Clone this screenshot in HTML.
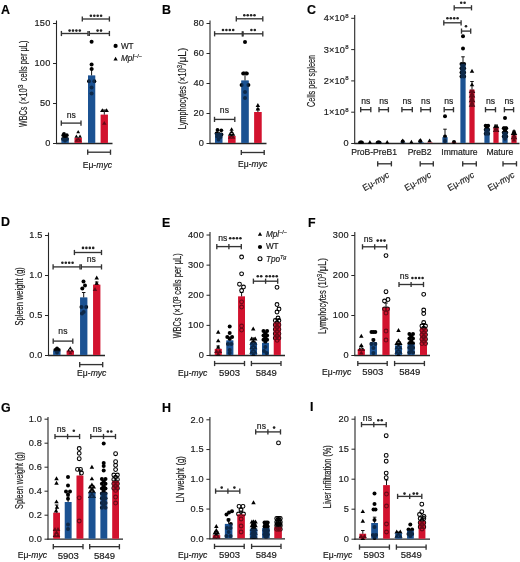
<!DOCTYPE html>
<html><head><meta charset="utf-8"><style>
html,body{margin:0;padding:0;background:#fff;}
svg{display:block;will-change:transform;}
text{font-family:"Liberation Sans", sans-serif;stroke:#1a1a1a;stroke-width:0.18px;}
</style></head><body>
<svg width="520" height="562" viewBox="0 0 520 562">
<rect width="520" height="562" fill="#fff"/>
<text x="1" y="14" font-size="12.4" font-weight="bold" fill="#000">A</text>
<line x1="56.5" y1="20.5" x2="56.5" y2="144.0" stroke="#262626" stroke-width="1.1"/>
<line x1="56.0" y1="143.5" x2="112.5" y2="143.5" stroke="#262626" stroke-width="1.3"/>
<line x1="53.0" y1="143.5" x2="56.5" y2="143.5" stroke="#262626" stroke-width="1"/>
<text x="50.5" y="146.4" font-size="9.2" text-anchor="end" fill="#1a1a1a" font-weight="normal" font-style="normal" letter-spacing="0.2">0</text>
<line x1="53.0" y1="103.5" x2="56.5" y2="103.5" stroke="#262626" stroke-width="1"/>
<text x="50.5" y="106.4" font-size="9.2" text-anchor="end" fill="#1a1a1a" font-weight="normal" font-style="normal" letter-spacing="0.2">50</text>
<line x1="53.0" y1="63.5" x2="56.5" y2="63.5" stroke="#262626" stroke-width="1"/>
<text x="50.5" y="66.4" font-size="9.2" text-anchor="end" fill="#1a1a1a" font-weight="normal" font-style="normal" letter-spacing="0.2">100</text>
<line x1="53.0" y1="23.5" x2="56.5" y2="23.5" stroke="#262626" stroke-width="1"/>
<text x="50.5" y="26.4" font-size="9.2" text-anchor="end" fill="#1a1a1a" font-weight="normal" font-style="normal" letter-spacing="0.2">150</text>
<text transform="translate(26.6,116.9) rotate(-90)" font-size="10" text-anchor="middle" fill="#1a1a1a" stroke="#1a1a1a" stroke-width="0.3" textLength="20.3" lengthAdjust="spacingAndGlyphs">WBCs</text>
<text transform="translate(26.6,96.05) rotate(-90)" font-size="10" text-anchor="middle" fill="#1a1a1a" stroke="#1a1a1a" stroke-width="0.3" textLength="15.8" lengthAdjust="spacingAndGlyphs">(×10</text>
<text transform="translate(23.0,86.45) rotate(-90)" font-size="6.5" text-anchor="middle" fill="#1a1a1a" stroke="#1a1a1a" stroke-width="0.3" textLength="3.8" lengthAdjust="spacingAndGlyphs">3</text>
<text transform="translate(26.6,60.9) rotate(-90)" font-size="10" text-anchor="middle" fill="#1a1a1a" stroke="#1a1a1a" stroke-width="0.3" textLength="40.7" lengthAdjust="spacingAndGlyphs">cells per μL)</text>
<rect x="61.5" y="137.9" width="7.2" height="5.0" fill="#1b5292"/>
<rect x="74.6" y="137.9" width="7.2" height="5.0" fill="#d2122e"/>
<rect x="88.0" y="75.5" width="7.2" height="67.4" fill="#1b5292"/>
<rect x="100.7" y="114.7" width="7.2" height="28.2" fill="#d2122e"/>
<line x1="91.6" y1="69" x2="91.6" y2="75.5" stroke="#111" stroke-width="1"/>
<line x1="89.85" y1="69" x2="93.35" y2="69" stroke="#111" stroke-width="1"/>
<line x1="104.3" y1="110" x2="104.3" y2="114.7" stroke="#111" stroke-width="1"/>
<line x1="102.55" y1="110" x2="106.05" y2="110" stroke="#111" stroke-width="1"/>
<circle cx="63.3" cy="135.2" r="1.9" fill="#000"/>
<circle cx="66.8" cy="135.2" r="1.9" fill="#000"/>
<circle cx="65" cy="137" r="1.9" fill="#000"/>
<circle cx="63" cy="139" r="1.9" fill="#000"/>
<circle cx="67" cy="139" r="1.9" fill="#000"/>
<circle cx="65" cy="140.5" r="1.9" fill="#000"/>
<circle cx="64" cy="134" r="1.9" fill="#000"/>
<path d="M76.30 133.25L80.10 133.25L78.20 129.95Z" fill="#000"/>
<path d="M74.50 137.85L78.30 137.85L76.40 134.55Z" fill="#000"/>
<path d="M78.10 137.85L81.90 137.85L80.00 134.55Z" fill="#000"/>
<path d="M76.30 140.25L80.10 140.25L78.20 136.95Z" fill="#000"/>
<path d="M74.60 141.65L78.40 141.65L76.50 138.35Z" fill="#000"/>
<path d="M77.90 141.65L81.70 141.65L79.80 138.35Z" fill="#000"/>
<circle cx="91.6" cy="41.8" r="2.0" fill="#000"/>
<circle cx="91.6" cy="64.6" r="2.0" fill="#000"/>
<circle cx="91.6" cy="69" r="2.0" fill="#000"/>
<circle cx="89" cy="81.3" r="2.0" fill="#000"/>
<circle cx="94.3" cy="81.3" r="2.0" fill="#000"/>
<circle cx="91.6" cy="87.5" r="2.0" fill="#000"/>
<circle cx="91.6" cy="93.4" r="2.0" fill="#000"/>
<path d="M100.05 112.06L104.55 112.06L102.30 108.14Z" fill="#000"/>
<path d="M104.35 112.06L108.85 112.06L106.60 108.14Z" fill="#000"/>
<path d="M102.05 124.86L106.55 124.86L104.30 120.94Z" fill="#000"/>
<line x1="82.3" y1="19" x2="109.4" y2="19" stroke="#333" stroke-width="1.35"/>
<line x1="82.3" y1="16.4" x2="82.3" y2="21.6" stroke="#333" stroke-width="1.35"/>
<line x1="109.4" y1="16.4" x2="109.4" y2="21.6" stroke="#333" stroke-width="1.35"/>
<circle cx="90.90" cy="15.7" r="1.3" fill="#222"/>
<circle cx="94.30" cy="15.7" r="1.3" fill="#222"/>
<circle cx="97.70" cy="15.7" r="1.3" fill="#222"/>
<circle cx="101.10" cy="15.7" r="1.3" fill="#222"/>
<line x1="61.4" y1="33.5" x2="88" y2="33.5" stroke="#333" stroke-width="1.35"/>
<line x1="61.4" y1="30.9" x2="61.4" y2="36.1" stroke="#333" stroke-width="1.35"/>
<line x1="88" y1="30.9" x2="88" y2="36.1" stroke="#333" stroke-width="1.35"/>
<line x1="89.3" y1="33.5" x2="109.4" y2="33.5" stroke="#333" stroke-width="1.35"/>
<line x1="89.3" y1="30.9" x2="89.3" y2="36.1" stroke="#333" stroke-width="1.35"/>
<line x1="109.4" y1="30.9" x2="109.4" y2="36.1" stroke="#333" stroke-width="1.35"/>
<circle cx="69.60" cy="30.6" r="1.3" fill="#222"/>
<circle cx="73.00" cy="30.6" r="1.3" fill="#222"/>
<circle cx="76.40" cy="30.6" r="1.3" fill="#222"/>
<circle cx="79.80" cy="30.6" r="1.3" fill="#222"/>
<circle cx="97.60" cy="30.6" r="1.3" fill="#222"/>
<circle cx="101.00" cy="30.6" r="1.3" fill="#222"/>
<line x1="61.3" y1="123.1" x2="81" y2="123.1" stroke="#333" stroke-width="1.35"/>
<line x1="61.3" y1="120.5" x2="61.3" y2="125.69999999999999" stroke="#333" stroke-width="1.35"/>
<line x1="81" y1="120.5" x2="81" y2="125.69999999999999" stroke="#333" stroke-width="1.35"/>
<text x="71.3" y="117.5" font-size="8.6" text-anchor="middle" fill="#1a1a1a" font-weight="normal" font-style="normal" >ns</text>
<line x1="87.7" y1="152.2" x2="110.5" y2="152.2" stroke="#333" stroke-width="1.35"/>
<line x1="87.7" y1="149.6" x2="87.7" y2="154.79999999999998" stroke="#333" stroke-width="1.35"/>
<line x1="110.5" y1="149.6" x2="110.5" y2="154.79999999999998" stroke="#333" stroke-width="1.35"/>
<text x="82.7" y="167.7" font-size="8.6" text-anchor="start" fill="#1a1a1a">Eμ-<tspan font-style="italic">myc</tspan></text>
<circle cx="115.6" cy="45.9" r="2.1" fill="#000"/>
<text x="120.9" y="49" font-size="8.2" text-anchor="start" fill="#1a1a1a" font-weight="normal" font-style="normal" >WT</text>
<path d="M113.45 60.47L117.75 60.47L115.60 56.73Z" fill="#000"/>
<text x="120.9" y="61.3" font-size="8.2" fill="#1a1a1a" font-style="italic">Mpl<tspan font-size="5.5" dy="-3.3" font-style="normal">−/−</tspan></text>
<text x="162" y="14" font-size="12.4" font-weight="bold" fill="#000">B</text>
<line x1="210" y1="20.6" x2="210" y2="144.0" stroke="#262626" stroke-width="1.1"/>
<line x1="209.5" y1="143.5" x2="266.5" y2="143.5" stroke="#262626" stroke-width="1.3"/>
<line x1="206.5" y1="143.5" x2="210" y2="143.5" stroke="#262626" stroke-width="1"/>
<text x="204.0" y="146.4" font-size="9.2" text-anchor="end" fill="#1a1a1a" font-weight="normal" font-style="normal" letter-spacing="0.2">0</text>
<line x1="206.5" y1="113.5" x2="210" y2="113.5" stroke="#262626" stroke-width="1"/>
<text x="204.0" y="116.4" font-size="9.2" text-anchor="end" fill="#1a1a1a" font-weight="normal" font-style="normal" letter-spacing="0.2">20</text>
<line x1="206.5" y1="83.5" x2="210" y2="83.5" stroke="#262626" stroke-width="1"/>
<text x="204.0" y="86.4" font-size="9.2" text-anchor="end" fill="#1a1a1a" font-weight="normal" font-style="normal" letter-spacing="0.2">40</text>
<line x1="206.5" y1="53.5" x2="210" y2="53.5" stroke="#262626" stroke-width="1"/>
<text x="204.0" y="56.4" font-size="9.2" text-anchor="end" fill="#1a1a1a" font-weight="normal" font-style="normal" letter-spacing="0.2">60</text>
<line x1="206.5" y1="23.5" x2="210" y2="23.5" stroke="#262626" stroke-width="1"/>
<text x="204.0" y="26.4" font-size="9.2" text-anchor="end" fill="#1a1a1a" font-weight="normal" font-style="normal" letter-spacing="0.2">80</text>
<text transform="translate(185.6,107.55) rotate(-90)" font-size="10" text-anchor="middle" fill="#1a1a1a" stroke="#1a1a1a" stroke-width="0.3" textLength="43.2" lengthAdjust="spacingAndGlyphs">Lymphocytes</text>
<text transform="translate(185.6,76.05) rotate(-90)" font-size="10" text-anchor="middle" fill="#1a1a1a" stroke="#1a1a1a" stroke-width="0.3" textLength="15.8" lengthAdjust="spacingAndGlyphs">(×10</text>
<text transform="translate(182.0,66.7) rotate(-90)" font-size="6.5" text-anchor="middle" fill="#1a1a1a" stroke="#1a1a1a" stroke-width="0.3" textLength="3.3" lengthAdjust="spacingAndGlyphs">3</text>
<text transform="translate(185.6,56.45) rotate(-90)" font-size="10" text-anchor="middle" fill="#1a1a1a" stroke="#1a1a1a" stroke-width="0.3" textLength="17.6" lengthAdjust="spacingAndGlyphs">/μL)</text>
<rect x="215" y="133.0" width="7.4" height="9.9" fill="#1b5292"/>
<rect x="228.1" y="136.0" width="7.4" height="6.9" fill="#d2122e"/>
<rect x="241.3" y="80.5" width="7.4" height="62.4" fill="#1b5292"/>
<rect x="254.2" y="112.0" width="7.4" height="30.9" fill="#d2122e"/>
<line x1="245" y1="72.1" x2="245" y2="80.5" stroke="#111" stroke-width="1"/>
<line x1="243.25" y1="72.1" x2="246.75" y2="72.1" stroke="#111" stroke-width="1"/>
<line x1="257.9" y1="109" x2="257.9" y2="112" stroke="#111" stroke-width="1"/>
<line x1="256.15" y1="109" x2="259.65" y2="109" stroke="#111" stroke-width="1"/>
<circle cx="217.5" cy="130" r="1.9" fill="#000"/>
<circle cx="221.3" cy="130.3" r="1.9" fill="#000"/>
<circle cx="216.5" cy="133.5" r="1.9" fill="#000"/>
<circle cx="219" cy="134" r="1.9" fill="#000"/>
<circle cx="221.5" cy="134.5" r="1.9" fill="#000"/>
<circle cx="217" cy="136.5" r="1.9" fill="#000"/>
<circle cx="220.5" cy="137" r="1.9" fill="#000"/>
<circle cx="218.5" cy="139.5" r="1.9" fill="#000"/>
<path d="M229.50 130.83L233.70 130.83L231.60 127.17Z" fill="#000"/>
<path d="M229.50 133.33L233.70 133.33L231.60 129.67Z" fill="#000"/>
<path d="M227.90 135.83L232.10 135.83L230.00 132.17Z" fill="#000"/>
<path d="M231.10 135.83L235.30 135.83L233.20 132.17Z" fill="#000"/>
<path d="M229.50 137.33L233.70 137.33L231.60 133.67Z" fill="#000"/>
<path d="M227.90 138.83L232.10 138.83L230.00 135.17Z" fill="#000"/>
<path d="M231.10 138.83L235.30 138.83L233.20 135.17Z" fill="#000"/>
<circle cx="245" cy="41.9" r="2.0" fill="#000"/>
<circle cx="243.2" cy="73.5" r="2.0" fill="#000"/>
<circle cx="246.8" cy="73.5" r="2.0" fill="#000"/>
<circle cx="241.6" cy="85" r="2.0" fill="#000"/>
<circle cx="248.4" cy="85" r="2.0" fill="#000"/>
<circle cx="245" cy="92" r="2.0" fill="#000"/>
<circle cx="245" cy="98" r="2.0" fill="#000"/>
<path d="M255.65 106.96L260.15 106.96L257.90 103.04Z" fill="#000"/>
<path d="M255.65 110.46L260.15 110.46L257.90 106.54Z" fill="#000"/>
<line x1="236.3" y1="18.8" x2="262.8" y2="18.8" stroke="#333" stroke-width="1.35"/>
<line x1="236.3" y1="16.2" x2="236.3" y2="21.400000000000002" stroke="#333" stroke-width="1.35"/>
<line x1="262.8" y1="16.2" x2="262.8" y2="21.400000000000002" stroke="#333" stroke-width="1.35"/>
<circle cx="244.30" cy="15.3" r="1.3" fill="#222"/>
<circle cx="247.70" cy="15.3" r="1.3" fill="#222"/>
<circle cx="251.10" cy="15.3" r="1.3" fill="#222"/>
<circle cx="254.50" cy="15.3" r="1.3" fill="#222"/>
<line x1="214.6" y1="33.8" x2="242.3" y2="33.8" stroke="#333" stroke-width="1.35"/>
<line x1="214.6" y1="31.199999999999996" x2="214.6" y2="36.4" stroke="#333" stroke-width="1.35"/>
<line x1="242.3" y1="31.199999999999996" x2="242.3" y2="36.4" stroke="#333" stroke-width="1.35"/>
<line x1="243.1" y1="33.8" x2="262.8" y2="33.8" stroke="#333" stroke-width="1.35"/>
<line x1="243.1" y1="31.199999999999996" x2="243.1" y2="36.4" stroke="#333" stroke-width="1.35"/>
<line x1="262.8" y1="31.199999999999996" x2="262.8" y2="36.4" stroke="#333" stroke-width="1.35"/>
<circle cx="223.00" cy="30" r="1.3" fill="#222"/>
<circle cx="226.40" cy="30" r="1.3" fill="#222"/>
<circle cx="229.80" cy="30" r="1.3" fill="#222"/>
<circle cx="233.20" cy="30" r="1.3" fill="#222"/>
<circle cx="251.40" cy="30" r="1.3" fill="#222"/>
<circle cx="254.80" cy="30" r="1.3" fill="#222"/>
<line x1="214.5" y1="119.4" x2="234.8" y2="119.4" stroke="#333" stroke-width="1.35"/>
<line x1="214.5" y1="116.80000000000001" x2="214.5" y2="122.0" stroke="#333" stroke-width="1.35"/>
<line x1="234.8" y1="116.80000000000001" x2="234.8" y2="122.0" stroke="#333" stroke-width="1.35"/>
<text x="224.4" y="112.5" font-size="8.6" text-anchor="middle" fill="#1a1a1a" font-weight="normal" font-style="normal" >ns</text>
<line x1="241.3" y1="152.5" x2="264.2" y2="152.5" stroke="#333" stroke-width="1.35"/>
<line x1="241.3" y1="149.9" x2="241.3" y2="155.1" stroke="#333" stroke-width="1.35"/>
<line x1="264.2" y1="149.9" x2="264.2" y2="155.1" stroke="#333" stroke-width="1.35"/>
<text x="238" y="167.3" font-size="8.6" text-anchor="start" fill="#1a1a1a">Eμ-<tspan font-style="italic">myc</tspan></text>
<text x="307" y="14" font-size="12.4" font-weight="bold" fill="#000">C</text>
<line x1="354.7" y1="15" x2="354.7" y2="144.0" stroke="#262626" stroke-width="1.1"/>
<line x1="354.2" y1="143.5" x2="519.5" y2="143.5" stroke="#262626" stroke-width="1.3"/>
<line x1="351.2" y1="143.5" x2="354.7" y2="143.5" stroke="#262626" stroke-width="1"/>
<text x="348.7" y="146.4" font-size="9.2" text-anchor="end" fill="#1a1a1a" font-weight="normal" font-style="normal" letter-spacing="0.2">0</text>
<line x1="351.2" y1="112.2" x2="354.7" y2="112.2" stroke="#262626" stroke-width="1"/>
<text x="348.7" y="115.10000000000001" font-size="9.2" text-anchor="end" fill="#1a1a1a" font-weight="normal" font-style="normal" letter-spacing="0.2">1×10<tspan font-size="6" dy="-3.5">8</tspan></text>
<line x1="351.2" y1="80.9" x2="354.7" y2="80.9" stroke="#262626" stroke-width="1"/>
<text x="348.7" y="83.80000000000001" font-size="9.2" text-anchor="end" fill="#1a1a1a" font-weight="normal" font-style="normal" letter-spacing="0.2">2×10<tspan font-size="6" dy="-3.5">8</tspan></text>
<line x1="351.2" y1="49.6" x2="354.7" y2="49.6" stroke="#262626" stroke-width="1"/>
<text x="348.7" y="52.5" font-size="9.2" text-anchor="end" fill="#1a1a1a" font-weight="normal" font-style="normal" letter-spacing="0.2">3×10<tspan font-size="6" dy="-3.5">8</tspan></text>
<line x1="351.2" y1="18.3" x2="354.7" y2="18.3" stroke="#262626" stroke-width="1"/>
<text x="348.7" y="21.2" font-size="9.2" text-anchor="end" fill="#1a1a1a" font-weight="normal" font-style="normal" letter-spacing="0.2">4×10<tspan font-size="6" dy="-3.5">8</tspan></text>
<text transform="translate(314.6,81) rotate(-90)" x="0" y="0" font-size="10" text-anchor="middle" fill="#1a1a1a" stroke="#1a1a1a" stroke-width="0.3" textLength="52" lengthAdjust="spacingAndGlyphs">Cells per spleen</text>
<rect x="358.5" y="142.87" width="5" height="0.03" fill="#1b5292"/>
<rect x="367.5" y="143.03" width="5" height="-0.13" fill="#d2122e"/>
<rect x="376.5" y="142.56" width="5" height="0.34" fill="#1b5292"/>
<rect x="385.5" y="142.87" width="5" height="0.03" fill="#d2122e"/>
<rect x="400.5" y="142.56" width="5" height="0.34" fill="#1b5292"/>
<rect x="409.5" y="143.19" width="5" height="-0.29" fill="#d2122e"/>
<rect x="418.5" y="142.25" width="5" height="0.65" fill="#1b5292"/>
<rect x="427.5" y="142.56" width="5" height="0.34" fill="#d2122e"/>
<rect x="442.5" y="137.24" width="5" height="5.66" fill="#1b5292"/>
<rect x="451.5" y="142.56" width="5" height="0.34" fill="#d2122e"/>
<rect x="460.5" y="63.69" width="5" height="79.21" fill="#1b5292"/>
<rect x="469.5" y="89.66" width="5" height="53.24" fill="#d2122e"/>
<rect x="484.5" y="128.48" width="5" height="14.42" fill="#1b5292"/>
<rect x="493.5" y="127.85" width="5" height="15.05" fill="#d2122e"/>
<rect x="502.5" y="131.92" width="5" height="10.98" fill="#1b5292"/>
<rect x="511.5" y="135.36" width="5" height="7.54" fill="#d2122e"/>
<circle cx="361" cy="142.2" r="1.9" fill="#000"/>
<circle cx="359.8" cy="142.4" r="1.7" fill="#000"/>
<circle cx="362.2" cy="142.4" r="1.7" fill="#000"/>
<circle cx="378.6" cy="142.2" r="1.9" fill="#000"/>
<circle cx="377.40000000000003" cy="142.4" r="1.7" fill="#000"/>
<circle cx="379.8" cy="142.4" r="1.7" fill="#000"/>
<path d="M367.80 143.63L372.00 143.63L369.90 139.97Z" fill="#000"/>
<path d="M385.10 143.63L389.30 143.63L387.20 139.97Z" fill="#000"/>
<circle cx="402.7" cy="141.6" r="2.0" fill="#000"/>
<path d="M400.60 142.23L404.80 142.23L402.70 138.57Z" fill="#000"/>
<path d="M409.30 143.43L413.50 143.43L411.40 139.77Z" fill="#000"/>
<circle cx="420.3" cy="141.2" r="2.0" fill="#000"/>
<path d="M418.20 141.63L422.40 141.63L420.30 137.97Z" fill="#000"/>
<path d="M427.40 142.21L431.80 142.21L429.60 138.39Z" fill="#000"/>
<line x1="445" y1="129.2" x2="445" y2="137" stroke="#111" stroke-width="1"/>
<line x1="443.25" y1="129.2" x2="446.75" y2="129.2" stroke="#111" stroke-width="1"/>
<circle cx="445" cy="116.2" r="2.0" fill="#000"/>
<circle cx="445" cy="136.5" r="2.0" fill="#000"/>
<circle cx="445" cy="141" r="2.0" fill="#000"/>
<circle cx="454" cy="142" r="2.0" fill="#000"/>
<line x1="463" y1="56.8" x2="463" y2="63.6" stroke="#111" stroke-width="1"/>
<line x1="461.25" y1="56.8" x2="464.75" y2="56.8" stroke="#111" stroke-width="1"/>
<circle cx="463" cy="36.3" r="2.0" fill="#000"/>
<circle cx="463" cy="48.4" r="2.0" fill="#000"/>
<circle cx="461.5" cy="64" r="2.0" fill="#000"/>
<circle cx="464.1" cy="64" r="2.0" fill="#000"/>
<circle cx="462.8" cy="66.1" r="2.0" fill="#000"/>
<circle cx="461.5" cy="68.2" r="2.0" fill="#000"/>
<circle cx="464.1" cy="68.2" r="2.0" fill="#000"/>
<circle cx="462.8" cy="70.3" r="2.0" fill="#000"/>
<circle cx="461.5" cy="72.4" r="2.0" fill="#000"/>
<circle cx="464.1" cy="72.4" r="2.0" fill="#000"/>
<circle cx="462.8" cy="74.5" r="2.0" fill="#000"/>
<circle cx="461.5" cy="76.6" r="2.0" fill="#000"/>
<circle cx="464.1" cy="76.6" r="2.0" fill="#000"/>
<line x1="472" y1="81.5" x2="472" y2="89.6" stroke="#111" stroke-width="1"/>
<line x1="470.25" y1="81.5" x2="473.75" y2="81.5" stroke="#111" stroke-width="1"/>
<path d="M469.75 72.66L474.25 72.66L472.00 68.74Z" fill="#000"/>
<path d="M469.75 86.36L474.25 86.36L472.00 82.44Z" fill="#000"/>
<path d="M468.75 92.96L473.25 92.96L471.00 89.04Z" fill="#000"/>
<path d="M470.75 92.96L475.25 92.96L473.00 89.04Z" fill="#000"/>
<path d="M469.75 95.26L474.25 95.26L472.00 91.34Z" fill="#000"/>
<path d="M468.75 97.56L473.25 97.56L471.00 93.64Z" fill="#000"/>
<path d="M470.75 97.56L475.25 97.56L473.00 93.64Z" fill="#000"/>
<path d="M469.75 99.86L474.25 99.86L472.00 95.94Z" fill="#000"/>
<path d="M468.75 102.16L473.25 102.16L471.00 98.24Z" fill="#000"/>
<path d="M470.75 102.16L475.25 102.16L473.00 98.24Z" fill="#000"/>
<path d="M469.75 104.46L474.25 104.46L472.00 100.54Z" fill="#000"/>
<path d="M468.75 106.76L473.25 106.76L471.00 102.84Z" fill="#000"/>
<path d="M470.75 106.76L475.25 106.76L473.00 102.84Z" fill="#000"/>
<line x1="487" y1="124.5" x2="487" y2="128.3" stroke="#111" stroke-width="1"/>
<line x1="485.25" y1="124.5" x2="488.75" y2="124.5" stroke="#111" stroke-width="1"/>
<circle cx="485.7" cy="125.8" r="2.0" fill="#000"/>
<circle cx="488.1" cy="125.8" r="2.0" fill="#000"/>
<circle cx="486.9" cy="127.8" r="2.0" fill="#000"/>
<circle cx="485.7" cy="129.8" r="2.0" fill="#000"/>
<circle cx="488.1" cy="129.8" r="2.0" fill="#000"/>
<circle cx="486.9" cy="131.8" r="2.0" fill="#000"/>
<circle cx="485.7" cy="133.8" r="2.0" fill="#000"/>
<circle cx="488.1" cy="133.8" r="2.0" fill="#000"/>
<line x1="496" y1="125" x2="496" y2="127.5" stroke="#111" stroke-width="1"/>
<line x1="494.25" y1="125" x2="497.75" y2="125" stroke="#111" stroke-width="1"/>
<path d="M492.85 128.16L497.35 128.16L495.10 124.24Z" fill="#000"/>
<path d="M494.85 128.16L499.35 128.16L497.10 124.24Z" fill="#000"/>
<path d="M493.85 130.06L498.35 130.06L496.10 126.14Z" fill="#000"/>
<path d="M492.85 131.96L497.35 131.96L495.10 128.04Z" fill="#000"/>
<path d="M494.85 131.96L499.35 131.96L497.10 128.04Z" fill="#000"/>
<line x1="505" y1="127" x2="505" y2="131.9" stroke="#111" stroke-width="1"/>
<line x1="503.25" y1="127" x2="506.75" y2="127" stroke="#111" stroke-width="1"/>
<circle cx="505" cy="118.1" r="2.0" fill="#000"/>
<circle cx="503.8" cy="128.2" r="2.0" fill="#000"/>
<circle cx="506.2" cy="128.2" r="2.0" fill="#000"/>
<circle cx="505" cy="130.3" r="2.0" fill="#000"/>
<circle cx="503.8" cy="132.4" r="2.0" fill="#000"/>
<circle cx="506.2" cy="132.4" r="2.0" fill="#000"/>
<circle cx="505" cy="134.5" r="2.0" fill="#000"/>
<circle cx="503.8" cy="136.6" r="2.0" fill="#000"/>
<circle cx="506.2" cy="136.6" r="2.0" fill="#000"/>
<circle cx="505" cy="138.7" r="2.0" fill="#000"/>
<line x1="514" y1="131" x2="514" y2="135.5" stroke="#111" stroke-width="1"/>
<line x1="512.25" y1="131" x2="515.75" y2="131" stroke="#111" stroke-width="1"/>
<path d="M511.75 132.96L516.25 132.96L514.00 129.04Z" fill="#000"/>
<path d="M510.75 134.96L515.25 134.96L513.00 131.04Z" fill="#000"/>
<path d="M512.75 134.96L517.25 134.96L515.00 131.04Z" fill="#000"/>
<path d="M511.75 137.16L516.25 137.16L514.00 133.24Z" fill="#000"/>
<path d="M510.75 139.36L515.25 139.36L513.00 135.44Z" fill="#000"/>
<path d="M512.75 139.36L517.25 139.36L515.00 135.44Z" fill="#000"/>
<path d="M511.75 141.56L516.25 141.56L514.00 137.64Z" fill="#000"/>
<line x1="360.7" y1="109.7" x2="370.8" y2="109.7" stroke="#333" stroke-width="1.35"/>
<line x1="360.7" y1="107.10000000000001" x2="360.7" y2="112.3" stroke="#333" stroke-width="1.35"/>
<line x1="370.8" y1="107.10000000000001" x2="370.8" y2="112.3" stroke="#333" stroke-width="1.35"/>
<text x="365.75" y="103.8" font-size="8.6" text-anchor="middle" fill="#1a1a1a" font-weight="normal" font-style="normal" >ns</text>
<line x1="379" y1="109.7" x2="388.4" y2="109.7" stroke="#333" stroke-width="1.35"/>
<line x1="379" y1="107.10000000000001" x2="379" y2="112.3" stroke="#333" stroke-width="1.35"/>
<line x1="388.4" y1="107.10000000000001" x2="388.4" y2="112.3" stroke="#333" stroke-width="1.35"/>
<text x="383.7" y="103.8" font-size="8.6" text-anchor="middle" fill="#1a1a1a" font-weight="normal" font-style="normal" >ns</text>
<line x1="401.9" y1="109.7" x2="412.3" y2="109.7" stroke="#333" stroke-width="1.35"/>
<line x1="401.9" y1="107.10000000000001" x2="401.9" y2="112.3" stroke="#333" stroke-width="1.35"/>
<line x1="412.3" y1="107.10000000000001" x2="412.3" y2="112.3" stroke="#333" stroke-width="1.35"/>
<text x="407.1" y="103.8" font-size="8.6" text-anchor="middle" fill="#1a1a1a" font-weight="normal" font-style="normal" >ns</text>
<line x1="420.9" y1="109.7" x2="430.4" y2="109.7" stroke="#333" stroke-width="1.35"/>
<line x1="420.9" y1="107.10000000000001" x2="420.9" y2="112.3" stroke="#333" stroke-width="1.35"/>
<line x1="430.4" y1="107.10000000000001" x2="430.4" y2="112.3" stroke="#333" stroke-width="1.35"/>
<text x="425.65" y="103.8" font-size="8.6" text-anchor="middle" fill="#1a1a1a" font-weight="normal" font-style="normal" >ns</text>
<line x1="444.2" y1="109.7" x2="453.5" y2="109.7" stroke="#333" stroke-width="1.35"/>
<line x1="444.2" y1="107.10000000000001" x2="444.2" y2="112.3" stroke="#333" stroke-width="1.35"/>
<line x1="453.5" y1="107.10000000000001" x2="453.5" y2="112.3" stroke="#333" stroke-width="1.35"/>
<text x="448.85" y="103.8" font-size="8.6" text-anchor="middle" fill="#1a1a1a" font-weight="normal" font-style="normal" >ns</text>
<line x1="485.5" y1="109.7" x2="495.5" y2="109.7" stroke="#333" stroke-width="1.35"/>
<line x1="485.5" y1="107.10000000000001" x2="485.5" y2="112.3" stroke="#333" stroke-width="1.35"/>
<line x1="495.5" y1="107.10000000000001" x2="495.5" y2="112.3" stroke="#333" stroke-width="1.35"/>
<text x="490.5" y="103.8" font-size="8.6" text-anchor="middle" fill="#1a1a1a" font-weight="normal" font-style="normal" >ns</text>
<line x1="504.4" y1="109.7" x2="513.6" y2="109.7" stroke="#333" stroke-width="1.35"/>
<line x1="504.4" y1="107.10000000000001" x2="504.4" y2="112.3" stroke="#333" stroke-width="1.35"/>
<line x1="513.6" y1="107.10000000000001" x2="513.6" y2="112.3" stroke="#333" stroke-width="1.35"/>
<text x="509.0" y="103.8" font-size="8.6" text-anchor="middle" fill="#1a1a1a" font-weight="normal" font-style="normal" >ns</text>
<line x1="461.5" y1="31.1" x2="470.7" y2="31.1" stroke="#333" stroke-width="1.35"/>
<line x1="461.5" y1="28.5" x2="461.5" y2="33.7" stroke="#333" stroke-width="1.35"/>
<line x1="470.7" y1="28.5" x2="470.7" y2="33.7" stroke="#333" stroke-width="1.35"/>
<circle cx="466.00" cy="26.3" r="1.3" fill="#222"/>
<line x1="443.8" y1="22.8" x2="461.1" y2="22.8" stroke="#333" stroke-width="1.35"/>
<line x1="443.8" y1="20.2" x2="443.8" y2="25.400000000000002" stroke="#333" stroke-width="1.35"/>
<line x1="461.1" y1="20.2" x2="461.1" y2="25.400000000000002" stroke="#333" stroke-width="1.35"/>
<circle cx="447.40" cy="18.2" r="1.3" fill="#222"/>
<circle cx="450.80" cy="18.2" r="1.3" fill="#222"/>
<circle cx="454.20" cy="18.2" r="1.3" fill="#222"/>
<circle cx="457.60" cy="18.2" r="1.3" fill="#222"/>
<line x1="454.2" y1="7.8" x2="471.5" y2="7.8" stroke="#333" stroke-width="1.35"/>
<line x1="454.2" y1="5.199999999999999" x2="454.2" y2="10.4" stroke="#333" stroke-width="1.35"/>
<line x1="471.5" y1="5.199999999999999" x2="471.5" y2="10.4" stroke="#333" stroke-width="1.35"/>
<circle cx="461.20" cy="2.8" r="1.3" fill="#222"/>
<circle cx="464.60" cy="2.8" r="1.3" fill="#222"/>
<text x="374.1" y="155.3" font-size="8.6" text-anchor="middle" fill="#1a1a1a" font-weight="normal" font-style="normal" >ProB-PreB1</text>
<text x="419.6" y="155.3" font-size="8.6" text-anchor="middle" fill="#1a1a1a" font-weight="normal" font-style="normal" >PreB2</text>
<text x="459.4" y="155.3" font-size="8.6" text-anchor="middle" fill="#1a1a1a" font-weight="normal" font-style="normal" >Immature</text>
<text x="499.8" y="155.3" font-size="8.6" text-anchor="middle" fill="#1a1a1a" font-weight="normal" font-style="normal" >Mature</text>
<line x1="377.7" y1="163.8" x2="391.4" y2="163.8" stroke="#333" stroke-width="1.35"/>
<line x1="377.7" y1="161.20000000000002" x2="377.7" y2="166.4" stroke="#333" stroke-width="1.35"/>
<line x1="391.4" y1="161.20000000000002" x2="391.4" y2="166.4" stroke="#333" stroke-width="1.35"/>
<text transform="translate(364.79999999999995,191.2) rotate(-30)" font-size="9" text-anchor="start" fill="#1a1a1a" textLength="29.2" lengthAdjust="spacingAndGlyphs">Eμ-<tspan font-style="italic">myc</tspan></text>
<line x1="420.2" y1="163.8" x2="433.3" y2="163.8" stroke="#333" stroke-width="1.35"/>
<line x1="420.2" y1="161.20000000000002" x2="420.2" y2="166.4" stroke="#333" stroke-width="1.35"/>
<line x1="433.3" y1="161.20000000000002" x2="433.3" y2="166.4" stroke="#333" stroke-width="1.35"/>
<text transform="translate(406.7,191.2) rotate(-30)" font-size="9" text-anchor="start" fill="#1a1a1a" textLength="29.2" lengthAdjust="spacingAndGlyphs">Eμ-<tspan font-style="italic">myc</tspan></text>
<line x1="462.7" y1="163.8" x2="476.3" y2="163.8" stroke="#333" stroke-width="1.35"/>
<line x1="462.7" y1="161.20000000000002" x2="462.7" y2="166.4" stroke="#333" stroke-width="1.35"/>
<line x1="476.3" y1="161.20000000000002" x2="476.3" y2="166.4" stroke="#333" stroke-width="1.35"/>
<text transform="translate(449.7,191.2) rotate(-30)" font-size="9" text-anchor="start" fill="#1a1a1a" textLength="29.2" lengthAdjust="spacingAndGlyphs">Eμ-<tspan font-style="italic">myc</tspan></text>
<line x1="503" y1="163.8" x2="516.5" y2="163.8" stroke="#333" stroke-width="1.35"/>
<line x1="503" y1="161.20000000000002" x2="503" y2="166.4" stroke="#333" stroke-width="1.35"/>
<line x1="516.5" y1="161.20000000000002" x2="516.5" y2="166.4" stroke="#333" stroke-width="1.35"/>
<text transform="translate(489.9,191.2) rotate(-30)" font-size="9" text-anchor="start" fill="#1a1a1a" textLength="29.2" lengthAdjust="spacingAndGlyphs">Eμ-<tspan font-style="italic">myc</tspan></text>
<text x="1" y="226" font-size="12.4" font-weight="bold" fill="#000">D</text>
<line x1="48.5" y1="232.5" x2="48.5" y2="356.0" stroke="#262626" stroke-width="1.1"/>
<line x1="48.0" y1="355.5" x2="105" y2="355.5" stroke="#262626" stroke-width="1.3"/>
<line x1="45.0" y1="355.5" x2="48.5" y2="355.5" stroke="#262626" stroke-width="1"/>
<text x="42.5" y="358.4" font-size="9.2" text-anchor="end" fill="#1a1a1a" font-weight="normal" font-style="normal" letter-spacing="0.2">0.0</text>
<line x1="45.0" y1="315.5" x2="48.5" y2="315.5" stroke="#262626" stroke-width="1"/>
<text x="42.5" y="318.4" font-size="9.2" text-anchor="end" fill="#1a1a1a" font-weight="normal" font-style="normal" letter-spacing="0.2">0.5</text>
<line x1="45.0" y1="275.5" x2="48.5" y2="275.5" stroke="#262626" stroke-width="1"/>
<text x="42.5" y="278.4" font-size="9.2" text-anchor="end" fill="#1a1a1a" font-weight="normal" font-style="normal" letter-spacing="0.2">1.0</text>
<line x1="45.0" y1="235.5" x2="48.5" y2="235.5" stroke="#262626" stroke-width="1"/>
<text x="42.5" y="238.4" font-size="9.2" text-anchor="end" fill="#1a1a1a" font-weight="normal" font-style="normal" letter-spacing="0.2">1.5</text>
<text transform="translate(22.8,296.3) rotate(-90)" x="0" y="0" font-size="10" text-anchor="middle" fill="#1a1a1a" stroke="#1a1a1a" stroke-width="0.3" textLength="58.3" lengthAdjust="spacingAndGlyphs">Spleen weight (g)</text>
<rect x="53.2" y="350.7" width="7.2" height="4.2" fill="#1b5292"/>
<rect x="66.7" y="350.7" width="7.2" height="4.2" fill="#d2122e"/>
<rect x="80.1" y="297.5" width="7.2" height="57.4" fill="#1b5292"/>
<rect x="93.1" y="284.7" width="7.2" height="70.2" fill="#d2122e"/>
<line x1="83.7" y1="292.5" x2="83.7" y2="297.5" stroke="#111" stroke-width="1"/>
<line x1="81.95" y1="292.5" x2="85.45" y2="292.5" stroke="#111" stroke-width="1"/>
<line x1="96.7" y1="282" x2="96.7" y2="284.7" stroke="#111" stroke-width="1"/>
<line x1="94.95" y1="282" x2="98.45" y2="282" stroke="#111" stroke-width="1"/>
<circle cx="55.3" cy="350" r="1.9" fill="#000"/>
<circle cx="58.8" cy="350" r="1.9" fill="#000"/>
<circle cx="57" cy="348.3" r="1.9" fill="#000"/>
<circle cx="57" cy="352.5" r="1.9" fill="#000"/>
<path d="M68.40 349.45L72.20 349.45L70.30 346.15Z" fill="#000"/>
<path d="M66.70 352.15L70.50 352.15L68.60 348.85Z" fill="#000"/>
<path d="M70.10 352.15L73.90 352.15L72.00 348.85Z" fill="#000"/>
<path d="M68.40 354.15L72.20 354.15L70.30 350.85Z" fill="#000"/>
<circle cx="83.5" cy="281.5" r="2.0" fill="#000"/>
<circle cx="85" cy="285.5" r="2.0" fill="#000"/>
<circle cx="82.3" cy="288.5" r="2.0" fill="#000"/>
<circle cx="81.5" cy="307" r="2.0" fill="#000"/>
<circle cx="86.2" cy="307" r="2.0" fill="#000"/>
<circle cx="83.7" cy="312" r="2.0" fill="#000"/>
<circle cx="82" cy="313.5" r="2.0" fill="#000"/>
<path d="M94.45 279.46L98.95 279.46L96.70 275.54Z" fill="#000"/>
<path d="M94.45 284.96L98.95 284.96L96.70 281.04Z" fill="#000"/>
<path d="M92.75 290.96L97.25 290.96L95.00 287.04Z" fill="#000"/>
<line x1="74.4" y1="252.5" x2="101.5" y2="252.5" stroke="#333" stroke-width="1.35"/>
<line x1="74.4" y1="249.9" x2="74.4" y2="255.1" stroke="#333" stroke-width="1.35"/>
<line x1="101.5" y1="249.9" x2="101.5" y2="255.1" stroke="#333" stroke-width="1.35"/>
<circle cx="83.00" cy="247.9" r="1.3" fill="#222"/>
<circle cx="86.40" cy="247.9" r="1.3" fill="#222"/>
<circle cx="89.80" cy="247.9" r="1.3" fill="#222"/>
<circle cx="93.20" cy="247.9" r="1.3" fill="#222"/>
<line x1="53.1" y1="266.9" x2="80" y2="266.9" stroke="#333" stroke-width="1.35"/>
<line x1="53.1" y1="264.29999999999995" x2="53.1" y2="269.5" stroke="#333" stroke-width="1.35"/>
<line x1="80" y1="264.29999999999995" x2="80" y2="269.5" stroke="#333" stroke-width="1.35"/>
<line x1="81.3" y1="266.9" x2="101.5" y2="266.9" stroke="#333" stroke-width="1.35"/>
<line x1="81.3" y1="264.29999999999995" x2="81.3" y2="269.5" stroke="#333" stroke-width="1.35"/>
<line x1="101.5" y1="264.29999999999995" x2="101.5" y2="269.5" stroke="#333" stroke-width="1.35"/>
<circle cx="62.40" cy="262.8" r="1.3" fill="#222"/>
<circle cx="65.80" cy="262.8" r="1.3" fill="#222"/>
<circle cx="69.20" cy="262.8" r="1.3" fill="#222"/>
<circle cx="72.60" cy="262.8" r="1.3" fill="#222"/>
<text x="91.3" y="261.9" font-size="8.6" text-anchor="middle" fill="#1a1a1a" font-weight="normal" font-style="normal" >ns</text>
<line x1="53.2" y1="341.1" x2="72.8" y2="341.1" stroke="#333" stroke-width="1.35"/>
<line x1="53.2" y1="338.5" x2="53.2" y2="343.70000000000005" stroke="#333" stroke-width="1.35"/>
<line x1="72.8" y1="338.5" x2="72.8" y2="343.70000000000005" stroke="#333" stroke-width="1.35"/>
<text x="62.9" y="334.2" font-size="8.6" text-anchor="middle" fill="#1a1a1a" font-weight="normal" font-style="normal" >ns</text>
<line x1="79.7" y1="364.6" x2="102.7" y2="364.6" stroke="#333" stroke-width="1.35"/>
<line x1="79.7" y1="362.0" x2="79.7" y2="367.20000000000005" stroke="#333" stroke-width="1.35"/>
<line x1="102.7" y1="362.0" x2="102.7" y2="367.20000000000005" stroke="#333" stroke-width="1.35"/>
<text x="77.1" y="375.7" font-size="8.6" text-anchor="start" fill="#1a1a1a">Eμ-<tspan font-style="italic">myc</tspan></text>
<text x="162" y="227" font-size="12.4" font-weight="bold" fill="#000">E</text>
<line x1="210" y1="232" x2="210" y2="356.0" stroke="#262626" stroke-width="1.1"/>
<line x1="209.5" y1="355.5" x2="285" y2="355.5" stroke="#262626" stroke-width="1.3"/>
<line x1="206.5" y1="355.5" x2="210" y2="355.5" stroke="#262626" stroke-width="1"/>
<text x="204.0" y="358.4" font-size="9.2" text-anchor="end" fill="#1a1a1a" font-weight="normal" font-style="normal" letter-spacing="0.2">0</text>
<line x1="206.5" y1="325.38" x2="210" y2="325.38" stroke="#262626" stroke-width="1"/>
<text x="204.0" y="328.28" font-size="9.2" text-anchor="end" fill="#1a1a1a" font-weight="normal" font-style="normal" letter-spacing="0.2">100</text>
<line x1="206.5" y1="295.26" x2="210" y2="295.26" stroke="#262626" stroke-width="1"/>
<text x="204.0" y="298.15999999999997" font-size="9.2" text-anchor="end" fill="#1a1a1a" font-weight="normal" font-style="normal" letter-spacing="0.2">200</text>
<line x1="206.5" y1="265.14" x2="210" y2="265.14" stroke="#262626" stroke-width="1"/>
<text x="204.0" y="268.03999999999996" font-size="9.2" text-anchor="end" fill="#1a1a1a" font-weight="normal" font-style="normal" letter-spacing="0.2">300</text>
<line x1="206.5" y1="235.02" x2="210" y2="235.02" stroke="#262626" stroke-width="1"/>
<text x="204.0" y="237.92000000000002" font-size="9.2" text-anchor="end" fill="#1a1a1a" font-weight="normal" font-style="normal" letter-spacing="0.2">400</text>
<text transform="translate(181.3,328.0) rotate(-90)" font-size="10" text-anchor="middle" fill="#1a1a1a" stroke="#1a1a1a" stroke-width="0.3" textLength="20.7" lengthAdjust="spacingAndGlyphs">WBCs</text>
<text transform="translate(181.3,307.35) rotate(-90)" font-size="10" text-anchor="middle" fill="#1a1a1a" stroke="#1a1a1a" stroke-width="0.3" textLength="15.8" lengthAdjust="spacingAndGlyphs">(×10</text>
<text transform="translate(177.70000000000002,298.25) rotate(-90)" font-size="6.5" text-anchor="middle" fill="#1a1a1a" stroke="#1a1a1a" stroke-width="0.3" textLength="3.8" lengthAdjust="spacingAndGlyphs">3</text>
<text transform="translate(181.3,273.9) rotate(-90)" font-size="10" text-anchor="middle" fill="#1a1a1a" stroke="#1a1a1a" stroke-width="0.3" textLength="41.5" lengthAdjust="spacingAndGlyphs">cells per μL)</text>
<rect x="214.8" y="348.87" width="6.9" height="6.03" fill="#d2122e"/>
<rect x="226.4" y="340.44" width="6.9" height="14.46" fill="#1b5292"/>
<rect x="238.1" y="296.46" width="6.9" height="58.44" fill="#d2122e"/>
<rect x="250.1" y="342.55" width="6.9" height="12.35" fill="#1b5292"/>
<rect x="262.0" y="342.85" width="6.9" height="12.05" fill="#1b5292"/>
<rect x="273.8" y="322.37" width="6.9" height="32.53" fill="#d2122e"/>
<line x1="218.2" y1="346" x2="218.2" y2="348.8" stroke="#111" stroke-width="1"/>
<line x1="216.45" y1="346" x2="219.95" y2="346" stroke="#111" stroke-width="1"/>
<line x1="229.8" y1="337" x2="229.8" y2="340.4" stroke="#111" stroke-width="1"/>
<line x1="228.05" y1="337" x2="231.55" y2="337" stroke="#111" stroke-width="1"/>
<line x1="241.6" y1="292.5" x2="241.6" y2="296.5" stroke="#111" stroke-width="1"/>
<line x1="239.85" y1="292.5" x2="243.35" y2="292.5" stroke="#111" stroke-width="1"/>
<line x1="253.5" y1="338" x2="253.5" y2="342.5" stroke="#111" stroke-width="1"/>
<line x1="251.75" y1="338" x2="255.25" y2="338" stroke="#111" stroke-width="1"/>
<line x1="265.4" y1="339.5" x2="265.4" y2="342.7" stroke="#111" stroke-width="1"/>
<line x1="263.65" y1="339.5" x2="267.15" y2="339.5" stroke="#111" stroke-width="1"/>
<line x1="277.2" y1="319.5" x2="277.2" y2="322.5" stroke="#111" stroke-width="1"/>
<line x1="275.45" y1="319.5" x2="278.95" y2="319.5" stroke="#111" stroke-width="1"/>
<path d="M215.95 333.66L220.45 333.66L218.20 329.74Z" fill="#000"/>
<path d="M215.95 342.36L220.45 342.36L218.20 338.44Z" fill="#000"/>
<path d="M215.95 348.66L220.45 348.66L218.20 344.74Z" fill="#000"/>
<path d="M214.25 352.96L218.75 352.96L216.50 349.04Z" fill="#000"/>
<path d="M217.55 352.96L222.05 352.96L219.80 349.04Z" fill="#000"/>
<path d="M215.95 355.46L220.45 355.46L218.20 351.54Z" fill="#000"/>
<circle cx="229.7" cy="326.4" r="2.0" fill="#000"/>
<circle cx="229.7" cy="333" r="2.0" fill="#000"/>
<circle cx="227.3" cy="337" r="2.0" fill="#000"/>
<circle cx="232.1" cy="337" r="2.0" fill="#000"/>
<circle cx="229.7" cy="339" r="2.0" fill="#000"/>
<circle cx="228" cy="344" r="2.0" fill="#000"/>
<circle cx="231.4" cy="344" r="2.0" fill="#000"/>
<circle cx="229.7" cy="350" r="2.0" fill="#000"/>
<circle cx="229.7" cy="353" r="2.0" fill="#000"/>
<circle cx="241.6" cy="257" r="1.9" fill="none" stroke="#000" stroke-width="1.05"/>
<circle cx="241.6" cy="273.8" r="1.9" fill="none" stroke="#000" stroke-width="1.05"/>
<circle cx="239.5" cy="284.2" r="1.9" fill="none" stroke="#000" stroke-width="1.05"/>
<circle cx="243.5" cy="287" r="1.9" fill="none" stroke="#000" stroke-width="1.05"/>
<circle cx="241.6" cy="290.5" r="1.9" fill="none" stroke="#000" stroke-width="1.05"/>
<circle cx="241.6" cy="301.8" r="1.9" fill="none" stroke="#000" stroke-width="1.05"/>
<circle cx="241.6" cy="307" r="1.9" fill="none" stroke="#000" stroke-width="1.05"/>
<circle cx="241.6" cy="326" r="1.9" fill="none" stroke="#000" stroke-width="1.05"/>
<circle cx="241.6" cy="330" r="1.9" fill="none" stroke="#000" stroke-width="1.05"/>
<path d="M250.95 330.46L255.45 330.46L253.20 326.54Z" fill="#000"/>
<path d="M249.35 340.46L253.85 340.46L251.60 336.54Z" fill="#000"/>
<path d="M252.95 340.46L257.45 340.46L255.20 336.54Z" fill="#000"/>
<path d="M251.15 342.66L255.65 342.66L253.40 338.74Z" fill="#000"/>
<path d="M249.35 344.86L253.85 344.86L251.60 340.94Z" fill="#000"/>
<path d="M252.95 344.86L257.45 344.86L255.20 340.94Z" fill="#000"/>
<path d="M251.15 347.06L255.65 347.06L253.40 343.14Z" fill="#000"/>
<path d="M249.35 349.26L253.85 349.26L251.60 345.34Z" fill="#000"/>
<path d="M252.95 349.26L257.45 349.26L255.20 345.34Z" fill="#000"/>
<path d="M251.15 351.46L255.65 351.46L253.40 347.54Z" fill="#000"/>
<path d="M249.35 353.66L253.85 353.66L251.60 349.74Z" fill="#000"/>
<path d="M252.95 353.66L257.45 353.66L255.20 349.74Z" fill="#000"/>
<path d="M251.15 355.86L255.65 355.86L253.40 351.94Z" fill="#000"/>
<circle cx="263.5" cy="331" r="2.0" fill="#000"/>
<circle cx="267.1" cy="331" r="2.0" fill="#000"/>
<circle cx="265.3" cy="333.2" r="2.0" fill="#000"/>
<circle cx="263.5" cy="335.4" r="2.0" fill="#000"/>
<circle cx="267.1" cy="335.4" r="2.0" fill="#000"/>
<circle cx="265.3" cy="337.6" r="2.0" fill="#000"/>
<circle cx="263.5" cy="339.8" r="2.0" fill="#000"/>
<circle cx="267.1" cy="339.8" r="2.0" fill="#000"/>
<circle cx="265.3" cy="342.0" r="2.0" fill="#000"/>
<circle cx="265.3" cy="347" r="2.0" fill="#000"/>
<circle cx="264" cy="351" r="2.0" fill="#000"/>
<circle cx="266.6" cy="353" r="2.0" fill="#000"/>
<circle cx="277" cy="287.3" r="1.9" fill="none" stroke="#000" stroke-width="1.05"/>
<circle cx="277" cy="304.5" r="1.9" fill="none" stroke="#000" stroke-width="1.05"/>
<circle cx="279" cy="309" r="1.9" fill="none" stroke="#000" stroke-width="1.05"/>
<circle cx="277" cy="312" r="1.9" fill="none" stroke="#000" stroke-width="1.05"/>
<circle cx="278" cy="318" r="1.9" fill="none" stroke="#000" stroke-width="1.05"/>
<circle cx="275.3" cy="320.5" r="1.9" fill="none" stroke="#000" stroke-width="1.05"/>
<circle cx="278.9" cy="320.5" r="1.9" fill="none" stroke="#000" stroke-width="1.05"/>
<circle cx="277.1" cy="322.7" r="1.9" fill="none" stroke="#000" stroke-width="1.05"/>
<circle cx="275.3" cy="324.9" r="1.9" fill="none" stroke="#000" stroke-width="1.05"/>
<circle cx="278.9" cy="324.9" r="1.9" fill="none" stroke="#000" stroke-width="1.05"/>
<circle cx="277.1" cy="327.1" r="1.9" fill="none" stroke="#000" stroke-width="1.05"/>
<circle cx="275.3" cy="329.3" r="1.9" fill="none" stroke="#000" stroke-width="1.05"/>
<circle cx="278.9" cy="329.3" r="1.9" fill="none" stroke="#000" stroke-width="1.05"/>
<circle cx="277.1" cy="331.5" r="1.9" fill="none" stroke="#000" stroke-width="1.05"/>
<circle cx="275.3" cy="333.7" r="1.9" fill="none" stroke="#000" stroke-width="1.05"/>
<circle cx="278.9" cy="333.7" r="1.9" fill="none" stroke="#000" stroke-width="1.05"/>
<circle cx="277.1" cy="335.9" r="1.9" fill="none" stroke="#000" stroke-width="1.05"/>
<circle cx="275.3" cy="338.1" r="1.9" fill="none" stroke="#000" stroke-width="1.05"/>
<circle cx="278.9" cy="338.1" r="1.9" fill="none" stroke="#000" stroke-width="1.05"/>
<circle cx="277.1" cy="340.3" r="1.9" fill="none" stroke="#000" stroke-width="1.05"/>
<line x1="216.8" y1="246.6" x2="241.3" y2="246.6" stroke="#333" stroke-width="1.35"/>
<line x1="216.8" y1="244.0" x2="216.8" y2="249.2" stroke="#333" stroke-width="1.35"/>
<line x1="241.3" y1="244.0" x2="241.3" y2="249.2" stroke="#333" stroke-width="1.35"/>
<line x1="228.9" y1="244.0" x2="228.9" y2="249.2" stroke="#333" stroke-width="1.35"/>
<text x="222.8" y="241.4" font-size="8.6" text-anchor="middle" fill="#1a1a1a" font-weight="normal" font-style="normal" >ns</text>
<circle cx="230.20" cy="238.3" r="1.3" fill="#222"/>
<circle cx="233.60" cy="238.3" r="1.3" fill="#222"/>
<circle cx="237.00" cy="238.3" r="1.3" fill="#222"/>
<circle cx="240.40" cy="238.3" r="1.3" fill="#222"/>
<line x1="253.4" y1="281.2" x2="277.7" y2="281.2" stroke="#333" stroke-width="1.35"/>
<line x1="253.4" y1="278.59999999999997" x2="253.4" y2="283.8" stroke="#333" stroke-width="1.35"/>
<line x1="277.7" y1="278.59999999999997" x2="277.7" y2="283.8" stroke="#333" stroke-width="1.35"/>
<line x1="265.6" y1="278.59999999999997" x2="265.6" y2="283.8" stroke="#333" stroke-width="1.35"/>
<circle cx="257.80" cy="276.2" r="1.3" fill="#222"/>
<circle cx="261.20" cy="276.2" r="1.3" fill="#222"/>
<circle cx="266.50" cy="276.2" r="1.3" fill="#222"/>
<circle cx="269.90" cy="276.2" r="1.3" fill="#222"/>
<circle cx="273.30" cy="276.2" r="1.3" fill="#222"/>
<circle cx="276.70" cy="276.2" r="1.3" fill="#222"/>
<line x1="214.6" y1="363.5" x2="244.5" y2="363.5" stroke="#333" stroke-width="1.35"/>
<line x1="214.6" y1="360.9" x2="214.6" y2="366.1" stroke="#333" stroke-width="1.35"/>
<line x1="244.5" y1="360.9" x2="244.5" y2="366.1" stroke="#333" stroke-width="1.35"/>
<line x1="251.4" y1="363.5" x2="281" y2="363.5" stroke="#333" stroke-width="1.35"/>
<line x1="251.4" y1="360.9" x2="251.4" y2="366.1" stroke="#333" stroke-width="1.35"/>
<line x1="281" y1="360.9" x2="281" y2="366.1" stroke="#333" stroke-width="1.35"/>
<text x="229.5" y="375.6" font-size="9.5" text-anchor="middle" fill="#1a1a1a" font-weight="normal" font-style="normal" >5903</text>
<text x="266.3" y="375.6" font-size="9.5" text-anchor="middle" fill="#1a1a1a" font-weight="normal" font-style="normal" >5849</text>
<text x="207.3" y="375.6" font-size="8.6" text-anchor="end" fill="#1a1a1a">Eμ-<tspan font-style="italic">myc</tspan></text>
<path d="M257.85 235.77L262.15 235.77L260.00 232.03Z" fill="#000"/>
<text x="265.9" y="236.9" font-size="8.2" fill="#1a1a1a" font-style="italic">Mpl<tspan font-size="5.5" dy="-3.3" font-style="normal">−/−</tspan></text>
<circle cx="260" cy="247" r="2.1" fill="#000"/>
<text x="265.9" y="249.4" font-size="8.2" text-anchor="start" fill="#1a1a1a" font-weight="normal" font-style="normal" >WT</text>
<circle cx="260" cy="258.7" r="2.0" fill="none" stroke="#000" stroke-width="1.05"/>
<text x="265.9" y="261.9" font-size="8.2" fill="#1a1a1a" font-style="italic">Tpo<tspan font-size="5.5" dy="-3.3">Tg</tspan></text>
<text x="308" y="227" font-size="12.4" font-weight="bold" fill="#000">F</text>
<line x1="354.8" y1="232" x2="354.8" y2="356.0" stroke="#262626" stroke-width="1.1"/>
<line x1="354.3" y1="355.5" x2="430" y2="355.5" stroke="#262626" stroke-width="1.3"/>
<line x1="351.3" y1="355.5" x2="354.8" y2="355.5" stroke="#262626" stroke-width="1"/>
<text x="348.8" y="358.4" font-size="9.2" text-anchor="end" fill="#1a1a1a" font-weight="normal" font-style="normal" letter-spacing="0.2">0</text>
<line x1="351.3" y1="315.5" x2="354.8" y2="315.5" stroke="#262626" stroke-width="1"/>
<text x="348.8" y="318.4" font-size="9.2" text-anchor="end" fill="#1a1a1a" font-weight="normal" font-style="normal" letter-spacing="0.2">100</text>
<line x1="351.3" y1="275.5" x2="354.8" y2="275.5" stroke="#262626" stroke-width="1"/>
<text x="348.8" y="278.4" font-size="9.2" text-anchor="end" fill="#1a1a1a" font-weight="normal" font-style="normal" letter-spacing="0.2">200</text>
<line x1="351.3" y1="235.5" x2="354.8" y2="235.5" stroke="#262626" stroke-width="1"/>
<text x="348.8" y="238.4" font-size="9.2" text-anchor="end" fill="#1a1a1a" font-weight="normal" font-style="normal" letter-spacing="0.2">300</text>
<text transform="translate(325.8,312.0) rotate(-90)" font-size="10" text-anchor="middle" fill="#1a1a1a" stroke="#1a1a1a" stroke-width="0.3" textLength="43.3" lengthAdjust="spacingAndGlyphs">Lymphocytes</text>
<text transform="translate(325.8,282.5) rotate(-90)" font-size="10" text-anchor="middle" fill="#1a1a1a" stroke="#1a1a1a" stroke-width="0.3" textLength="10.9" lengthAdjust="spacingAndGlyphs">(10</text>
<text transform="translate(322.2,275.55) rotate(-90)" font-size="6.5" text-anchor="middle" fill="#1a1a1a" stroke="#1a1a1a" stroke-width="0.3" textLength="3.4" lengthAdjust="spacingAndGlyphs">3</text>
<text transform="translate(325.8,265.8) rotate(-90)" font-size="10" text-anchor="middle" fill="#1a1a1a" stroke="#1a1a1a" stroke-width="0.3" textLength="15.9" lengthAdjust="spacingAndGlyphs">/μL)</text>
<rect x="357.8" y="349.1" width="7" height="5.8" fill="#d2122e"/>
<rect x="369.9" y="342.3" width="7" height="12.6" fill="#1b5292"/>
<rect x="382.5" y="307.5" width="7" height="47.4" fill="#d2122e"/>
<rect x="395.0" y="345.5" width="7" height="9.4" fill="#1b5292"/>
<rect x="407.6" y="344.3" width="7" height="10.6" fill="#1b5292"/>
<rect x="420.0" y="328.3" width="7" height="26.6" fill="#d2122e"/>
<line x1="361.3" y1="346" x2="361.3" y2="348.8" stroke="#111" stroke-width="1"/>
<line x1="359.55" y1="346" x2="363.05" y2="346" stroke="#111" stroke-width="1"/>
<line x1="373.4" y1="339" x2="373.4" y2="342.3" stroke="#111" stroke-width="1"/>
<line x1="371.65" y1="339" x2="375.15" y2="339" stroke="#111" stroke-width="1"/>
<line x1="386" y1="303" x2="386" y2="307" stroke="#111" stroke-width="1"/>
<line x1="384.25" y1="303" x2="387.75" y2="303" stroke="#111" stroke-width="1"/>
<line x1="398.5" y1="343" x2="398.5" y2="345.5" stroke="#111" stroke-width="1"/>
<line x1="396.75" y1="343" x2="400.25" y2="343" stroke="#111" stroke-width="1"/>
<line x1="411.1" y1="341.5" x2="411.1" y2="344.3" stroke="#111" stroke-width="1"/>
<line x1="409.35" y1="341.5" x2="412.85" y2="341.5" stroke="#111" stroke-width="1"/>
<line x1="423.5" y1="323.5" x2="423.5" y2="328.3" stroke="#111" stroke-width="1"/>
<line x1="421.75" y1="323.5" x2="425.25" y2="323.5" stroke="#111" stroke-width="1"/>
<path d="M359.05 337.76L363.55 337.76L361.30 333.84Z" fill="#000"/>
<path d="M359.05 346.96L363.55 346.96L361.30 343.04Z" fill="#000"/>
<path d="M357.55 350.96L362.05 350.96L359.80 347.04Z" fill="#000"/>
<path d="M360.55 350.96L365.05 350.96L362.80 347.04Z" fill="#000"/>
<path d="M359.05 354.46L363.55 354.46L361.30 350.54Z" fill="#000"/>
<circle cx="373.4" cy="332" r="2.0" fill="#000"/>
<circle cx="371.5" cy="332" r="2.0" fill="#000"/>
<circle cx="375.3" cy="332" r="2.0" fill="#000"/>
<circle cx="373.4" cy="340" r="2.0" fill="#000"/>
<circle cx="371.5" cy="344" r="2.0" fill="#000"/>
<circle cx="375.3" cy="344" r="2.0" fill="#000"/>
<circle cx="373.4" cy="348" r="2.0" fill="#000"/>
<circle cx="373.4" cy="353" r="2.0" fill="#000"/>
<circle cx="386" cy="255.6" r="1.9" fill="none" stroke="#000" stroke-width="1.05"/>
<circle cx="386" cy="291.7" r="1.9" fill="none" stroke="#000" stroke-width="1.05"/>
<circle cx="384.5" cy="301" r="1.9" fill="none" stroke="#000" stroke-width="1.05"/>
<circle cx="388" cy="299.5" r="1.9" fill="none" stroke="#000" stroke-width="1.05"/>
<circle cx="386" cy="313" r="1.9" fill="none" stroke="#000" stroke-width="1.05"/>
<circle cx="386" cy="331" r="1.9" fill="none" stroke="#000" stroke-width="1.05"/>
<circle cx="386" cy="340" r="1.9" fill="none" stroke="#000" stroke-width="1.05"/>
<circle cx="384.5" cy="309" r="1.9" fill="none" stroke="#000" stroke-width="1.05"/>
<circle cx="387.5" cy="309" r="1.9" fill="none" stroke="#000" stroke-width="1.05"/>
<path d="M396.25 331.96L400.75 331.96L398.50 328.04Z" fill="#000"/>
<path d="M396.25 342.16L400.75 342.16L398.50 338.24Z" fill="#000"/>
<path d="M394.45 344.96L398.95 344.96L396.70 341.04Z" fill="#000"/>
<path d="M398.05 344.96L402.55 344.96L400.30 341.04Z" fill="#000"/>
<path d="M396.25 347.16L400.75 347.16L398.50 343.24Z" fill="#000"/>
<path d="M394.45 349.36L398.95 349.36L396.70 345.44Z" fill="#000"/>
<path d="M398.05 349.36L402.55 349.36L400.30 345.44Z" fill="#000"/>
<path d="M396.25 351.56L400.75 351.56L398.50 347.64Z" fill="#000"/>
<path d="M394.45 353.76L398.95 353.76L396.70 349.84Z" fill="#000"/>
<path d="M398.05 353.76L402.55 353.76L400.30 349.84Z" fill="#000"/>
<path d="M396.25 355.96L400.75 355.96L398.50 352.04Z" fill="#000"/>
<circle cx="409.4" cy="334" r="2.0" fill="#000"/>
<circle cx="413.0" cy="334" r="2.0" fill="#000"/>
<circle cx="411.2" cy="336.3" r="2.0" fill="#000"/>
<circle cx="409.4" cy="338.6" r="2.0" fill="#000"/>
<circle cx="413.0" cy="338.6" r="2.0" fill="#000"/>
<circle cx="411.2" cy="340.9" r="2.0" fill="#000"/>
<circle cx="409.4" cy="343.2" r="2.0" fill="#000"/>
<circle cx="413.0" cy="343.2" r="2.0" fill="#000"/>
<circle cx="411.2" cy="345.5" r="2.0" fill="#000"/>
<circle cx="409.4" cy="347.8" r="2.0" fill="#000"/>
<circle cx="413.0" cy="347.8" r="2.0" fill="#000"/>
<circle cx="411.2" cy="350.1" r="2.0" fill="#000"/>
<circle cx="409.4" cy="352.4" r="2.0" fill="#000"/>
<circle cx="413.0" cy="352.4" r="2.0" fill="#000"/>
<circle cx="423.7" cy="294.3" r="1.9" fill="none" stroke="#000" stroke-width="1.05"/>
<circle cx="423.7" cy="310" r="1.9" fill="none" stroke="#000" stroke-width="1.05"/>
<circle cx="423.7" cy="313.5" r="1.9" fill="none" stroke="#000" stroke-width="1.05"/>
<circle cx="423.7" cy="322.5" r="1.9" fill="none" stroke="#000" stroke-width="1.05"/>
<circle cx="421.9" cy="326" r="1.9" fill="none" stroke="#000" stroke-width="1.05"/>
<circle cx="425.5" cy="326" r="1.9" fill="none" stroke="#000" stroke-width="1.05"/>
<circle cx="423.7" cy="328.2" r="1.9" fill="none" stroke="#000" stroke-width="1.05"/>
<circle cx="421.9" cy="330.4" r="1.9" fill="none" stroke="#000" stroke-width="1.05"/>
<circle cx="425.5" cy="330.4" r="1.9" fill="none" stroke="#000" stroke-width="1.05"/>
<circle cx="423.7" cy="332.6" r="1.9" fill="none" stroke="#000" stroke-width="1.05"/>
<circle cx="421.9" cy="334.8" r="1.9" fill="none" stroke="#000" stroke-width="1.05"/>
<circle cx="425.5" cy="334.8" r="1.9" fill="none" stroke="#000" stroke-width="1.05"/>
<circle cx="423.7" cy="337.0" r="1.9" fill="none" stroke="#000" stroke-width="1.05"/>
<circle cx="421.9" cy="339.2" r="1.9" fill="none" stroke="#000" stroke-width="1.05"/>
<circle cx="425.5" cy="339.2" r="1.9" fill="none" stroke="#000" stroke-width="1.05"/>
<circle cx="423.7" cy="341.4" r="1.9" fill="none" stroke="#000" stroke-width="1.05"/>
<circle cx="421.9" cy="343.6" r="1.9" fill="none" stroke="#000" stroke-width="1.05"/>
<circle cx="425.5" cy="343.6" r="1.9" fill="none" stroke="#000" stroke-width="1.05"/>
<line x1="362.5" y1="246.8" x2="386.7" y2="246.8" stroke="#333" stroke-width="1.35"/>
<line x1="362.5" y1="244.20000000000002" x2="362.5" y2="249.4" stroke="#333" stroke-width="1.35"/>
<line x1="386.7" y1="244.20000000000002" x2="386.7" y2="249.4" stroke="#333" stroke-width="1.35"/>
<line x1="374.7" y1="244.20000000000002" x2="374.7" y2="249.4" stroke="#333" stroke-width="1.35"/>
<text x="368.2" y="241.8" font-size="8.6" text-anchor="middle" fill="#1a1a1a" font-weight="normal" font-style="normal" >ns</text>
<circle cx="377.70" cy="240.6" r="1.3" fill="#222"/>
<circle cx="381.10" cy="240.6" r="1.3" fill="#222"/>
<circle cx="384.50" cy="240.6" r="1.3" fill="#222"/>
<line x1="399" y1="284.5" x2="423.5" y2="284.5" stroke="#333" stroke-width="1.35"/>
<line x1="399" y1="281.9" x2="399" y2="287.1" stroke="#333" stroke-width="1.35"/>
<line x1="423.5" y1="281.9" x2="423.5" y2="287.1" stroke="#333" stroke-width="1.35"/>
<line x1="411.1" y1="281.9" x2="411.1" y2="287.1" stroke="#333" stroke-width="1.35"/>
<text x="404.2" y="279.3" font-size="8.6" text-anchor="middle" fill="#1a1a1a" font-weight="normal" font-style="normal" >ns</text>
<circle cx="412.40" cy="278" r="1.3" fill="#222"/>
<circle cx="415.80" cy="278" r="1.3" fill="#222"/>
<circle cx="419.20" cy="278" r="1.3" fill="#222"/>
<circle cx="422.60" cy="278" r="1.3" fill="#222"/>
<line x1="357.8" y1="363.5" x2="387.2" y2="363.5" stroke="#333" stroke-width="1.35"/>
<line x1="357.8" y1="360.9" x2="357.8" y2="366.1" stroke="#333" stroke-width="1.35"/>
<line x1="387.2" y1="360.9" x2="387.2" y2="366.1" stroke="#333" stroke-width="1.35"/>
<line x1="394.6" y1="363.5" x2="424.4" y2="363.5" stroke="#333" stroke-width="1.35"/>
<line x1="394.6" y1="360.9" x2="394.6" y2="366.1" stroke="#333" stroke-width="1.35"/>
<line x1="424.4" y1="360.9" x2="424.4" y2="366.1" stroke="#333" stroke-width="1.35"/>
<text x="372.7" y="375.2" font-size="9.5" text-anchor="middle" fill="#1a1a1a" font-weight="normal" font-style="normal" >5903</text>
<text x="409.7" y="375.2" font-size="9.5" text-anchor="middle" fill="#1a1a1a" font-weight="normal" font-style="normal" >5849</text>
<text x="322" y="375.3" font-size="8.6" text-anchor="start" fill="#1a1a1a">Eμ-<tspan font-style="italic">myc</tspan></text>
<text x="1" y="411.5" font-size="12.4" font-weight="bold" fill="#000">G</text>
<line x1="48" y1="417" x2="48" y2="539.7" stroke="#262626" stroke-width="1.1"/>
<line x1="47.5" y1="539.2" x2="123" y2="539.2" stroke="#262626" stroke-width="1.3"/>
<line x1="44.5" y1="539.2" x2="48" y2="539.2" stroke="#262626" stroke-width="1"/>
<text x="42.0" y="542.1" font-size="9.2" text-anchor="end" fill="#1a1a1a" font-weight="normal" font-style="normal" letter-spacing="0.2">0.0</text>
<line x1="44.5" y1="515.2" x2="48" y2="515.2" stroke="#262626" stroke-width="1"/>
<text x="42.0" y="518.1" font-size="9.2" text-anchor="end" fill="#1a1a1a" font-weight="normal" font-style="normal" letter-spacing="0.2">0.2</text>
<line x1="44.5" y1="491.2" x2="48" y2="491.2" stroke="#262626" stroke-width="1"/>
<text x="42.0" y="494.09999999999997" font-size="9.2" text-anchor="end" fill="#1a1a1a" font-weight="normal" font-style="normal" letter-spacing="0.2">0.4</text>
<line x1="44.5" y1="467.2" x2="48" y2="467.2" stroke="#262626" stroke-width="1"/>
<text x="42.0" y="470.09999999999997" font-size="9.2" text-anchor="end" fill="#1a1a1a" font-weight="normal" font-style="normal" letter-spacing="0.2">0.6</text>
<line x1="44.5" y1="443.2" x2="48" y2="443.2" stroke="#262626" stroke-width="1"/>
<text x="42.0" y="446.09999999999997" font-size="9.2" text-anchor="end" fill="#1a1a1a" font-weight="normal" font-style="normal" letter-spacing="0.2">0.8</text>
<line x1="44.5" y1="419.2" x2="48" y2="419.2" stroke="#262626" stroke-width="1"/>
<text x="42.0" y="422.09999999999997" font-size="9.2" text-anchor="end" fill="#1a1a1a" font-weight="normal" font-style="normal" letter-spacing="0.2">1.0</text>
<text transform="translate(23.3,480.5) rotate(-90)" x="0" y="0" font-size="10" text-anchor="middle" fill="#1a1a1a" stroke="#1a1a1a" stroke-width="0.3" textLength="57" lengthAdjust="spacingAndGlyphs">Spleen weight (g)</text>
<rect x="53.3" y="512.8" width="6.7" height="25.8" fill="#d2122e"/>
<rect x="64.8" y="502.0" width="6.7" height="36.6" fill="#1b5292"/>
<rect x="76.6" y="475.6" width="6.7" height="63.0" fill="#d2122e"/>
<rect x="88.7" y="492.4" width="6.7" height="46.2" fill="#1b5292"/>
<rect x="100.5" y="492.4" width="6.7" height="46.2" fill="#1b5292"/>
<rect x="112.3" y="481.0" width="6.7" height="57.6" fill="#d2122e"/>
<line x1="56.6" y1="505" x2="56.6" y2="512.8" stroke="#111" stroke-width="1"/>
<line x1="54.85" y1="505" x2="58.35" y2="505" stroke="#111" stroke-width="1"/>
<line x1="68.1" y1="496" x2="68.1" y2="502" stroke="#111" stroke-width="1"/>
<line x1="66.35" y1="496" x2="69.85" y2="496" stroke="#111" stroke-width="1"/>
<line x1="79.9" y1="470" x2="79.9" y2="475.6" stroke="#111" stroke-width="1"/>
<line x1="78.15" y1="470" x2="81.65" y2="470" stroke="#111" stroke-width="1"/>
<line x1="92" y1="489" x2="92" y2="492.4" stroke="#111" stroke-width="1"/>
<line x1="90.25" y1="489" x2="93.75" y2="489" stroke="#111" stroke-width="1"/>
<line x1="103.8" y1="488.5" x2="103.8" y2="492.4" stroke="#111" stroke-width="1"/>
<line x1="102.05" y1="488.5" x2="105.55" y2="488.5" stroke="#111" stroke-width="1"/>
<line x1="115.6" y1="482" x2="115.6" y2="484" stroke="#111" stroke-width="1"/>
<line x1="113.85" y1="482" x2="117.35" y2="482" stroke="#111" stroke-width="1"/>
<path d="M54.25 480.26L58.75 480.26L56.50 476.34Z" fill="#000"/>
<path d="M54.25 484.66L58.75 484.66L56.50 480.74Z" fill="#000"/>
<path d="M54.25 503.36L58.75 503.36L56.50 499.44Z" fill="#000"/>
<path d="M54.75 508.66L59.25 508.66L57.00 504.74Z" fill="#000"/>
<path d="M53.75 512.46L58.25 512.46L56.00 508.54Z" fill="#000"/>
<path d="M52.75 530.96L57.25 530.96L55.00 527.04Z" fill="#000"/>
<path d="M55.75 530.96L60.25 530.96L58.00 527.04Z" fill="#000"/>
<path d="M54.25 533.96L58.75 533.96L56.50 530.04Z" fill="#000"/>
<path d="M52.75 536.96L57.25 536.96L55.00 533.04Z" fill="#000"/>
<path d="M55.75 536.96L60.25 536.96L58.00 533.04Z" fill="#000"/>
<circle cx="68" cy="477" r="2.0" fill="#000"/>
<circle cx="68" cy="485.4" r="2.0" fill="#000"/>
<circle cx="66" cy="491.6" r="2.0" fill="#000"/>
<circle cx="70" cy="491.6" r="2.0" fill="#000"/>
<circle cx="68" cy="494.5" r="2.0" fill="#000"/>
<circle cx="68" cy="498.7" r="2.0" fill="#000"/>
<circle cx="68" cy="524.5" r="2.0" fill="#000"/>
<circle cx="68" cy="529" r="2.0" fill="#000"/>
<circle cx="79.2" cy="448.5" r="1.9" fill="none" stroke="#000" stroke-width="1.05"/>
<circle cx="79.2" cy="453.3" r="1.9" fill="none" stroke="#000" stroke-width="1.05"/>
<circle cx="79.2" cy="458.7" r="1.9" fill="none" stroke="#000" stroke-width="1.05"/>
<circle cx="77.5" cy="469.4" r="1.9" fill="none" stroke="#000" stroke-width="1.05"/>
<circle cx="80.5" cy="469.4" r="1.9" fill="none" stroke="#000" stroke-width="1.05"/>
<circle cx="81.5" cy="473" r="1.9" fill="none" stroke="#000" stroke-width="1.05"/>
<circle cx="79.2" cy="497.8" r="1.9" fill="none" stroke="#000" stroke-width="1.05"/>
<circle cx="79.2" cy="521" r="1.9" fill="none" stroke="#000" stroke-width="1.05"/>
<path d="M89.65 468.76L94.15 468.76L91.90 464.84Z" fill="#000"/>
<path d="M89.65 480.36L94.15 480.36L91.90 476.44Z" fill="#000"/>
<path d="M89.65 486.46L94.15 486.46L91.90 482.54Z" fill="#000"/>
<path d="M87.85 488.46L92.35 488.46L90.10 484.54Z" fill="#000"/>
<path d="M91.45 488.46L95.95 488.46L93.70 484.54Z" fill="#000"/>
<path d="M89.65 490.86L94.15 490.86L91.90 486.94Z" fill="#000"/>
<path d="M87.85 493.26L92.35 493.26L90.10 489.34Z" fill="#000"/>
<path d="M91.45 493.26L95.95 493.26L93.70 489.34Z" fill="#000"/>
<path d="M89.65 495.66L94.15 495.66L91.90 491.74Z" fill="#000"/>
<path d="M87.85 498.06L92.35 498.06L90.10 494.14Z" fill="#000"/>
<path d="M91.45 498.06L95.95 498.06L93.70 494.14Z" fill="#000"/>
<circle cx="103.7" cy="443.4" r="2.0" fill="#000"/>
<circle cx="103.7" cy="463" r="2.0" fill="#000"/>
<circle cx="103.7" cy="466" r="2.0" fill="#000"/>
<circle cx="103.7" cy="470.5" r="2.0" fill="#000"/>
<circle cx="101.9" cy="479" r="2.0" fill="#000"/>
<circle cx="105.5" cy="479" r="2.0" fill="#000"/>
<circle cx="103.7" cy="481.4" r="2.0" fill="#000"/>
<circle cx="101.9" cy="483.8" r="2.0" fill="#000"/>
<circle cx="105.5" cy="483.8" r="2.0" fill="#000"/>
<circle cx="103.7" cy="486.2" r="2.0" fill="#000"/>
<circle cx="101.9" cy="488.6" r="2.0" fill="#000"/>
<circle cx="105.5" cy="488.6" r="2.0" fill="#000"/>
<circle cx="103.7" cy="491.0" r="2.0" fill="#000"/>
<circle cx="101.9" cy="493.4" r="2.0" fill="#000"/>
<circle cx="105.5" cy="493.4" r="2.0" fill="#000"/>
<circle cx="103.7" cy="495.8" r="2.0" fill="#000"/>
<circle cx="101.9" cy="498.2" r="2.0" fill="#000"/>
<circle cx="105.5" cy="498.2" r="2.0" fill="#000"/>
<circle cx="103.7" cy="500.6" r="2.0" fill="#000"/>
<circle cx="101.9" cy="503.0" r="2.0" fill="#000"/>
<circle cx="105.5" cy="503.0" r="2.0" fill="#000"/>
<circle cx="103.7" cy="505.4" r="2.0" fill="#000"/>
<circle cx="101.9" cy="507.8" r="2.0" fill="#000"/>
<circle cx="105.5" cy="507.8" r="2.0" fill="#000"/>
<circle cx="115.6" cy="453.7" r="1.9" fill="none" stroke="#000" stroke-width="1.05"/>
<circle cx="115.6" cy="461.7" r="1.9" fill="none" stroke="#000" stroke-width="1.05"/>
<circle cx="115.6" cy="465.3" r="1.9" fill="none" stroke="#000" stroke-width="1.05"/>
<circle cx="115.6" cy="469.6" r="1.9" fill="none" stroke="#000" stroke-width="1.05"/>
<circle cx="113.8" cy="475" r="1.9" fill="none" stroke="#000" stroke-width="1.05"/>
<circle cx="117.4" cy="475" r="1.9" fill="none" stroke="#000" stroke-width="1.05"/>
<circle cx="115.6" cy="477.2" r="1.9" fill="none" stroke="#000" stroke-width="1.05"/>
<circle cx="113.8" cy="479.4" r="1.9" fill="none" stroke="#000" stroke-width="1.05"/>
<circle cx="117.4" cy="479.4" r="1.9" fill="none" stroke="#000" stroke-width="1.05"/>
<circle cx="115.6" cy="481.6" r="1.9" fill="none" stroke="#000" stroke-width="1.05"/>
<circle cx="113.8" cy="483.8" r="1.9" fill="none" stroke="#000" stroke-width="1.05"/>
<circle cx="117.4" cy="483.8" r="1.9" fill="none" stroke="#000" stroke-width="1.05"/>
<circle cx="115.6" cy="486.0" r="1.9" fill="none" stroke="#000" stroke-width="1.05"/>
<circle cx="113.8" cy="488.2" r="1.9" fill="none" stroke="#000" stroke-width="1.05"/>
<circle cx="117.4" cy="488.2" r="1.9" fill="none" stroke="#000" stroke-width="1.05"/>
<circle cx="115.6" cy="490.4" r="1.9" fill="none" stroke="#000" stroke-width="1.05"/>
<circle cx="115.6" cy="497" r="1.9" fill="none" stroke="#000" stroke-width="1.05"/>
<circle cx="115.6" cy="503" r="1.9" fill="none" stroke="#000" stroke-width="1.05"/>
<line x1="55" y1="436.5" x2="79.6" y2="436.5" stroke="#333" stroke-width="1.35"/>
<line x1="55" y1="433.9" x2="55" y2="439.1" stroke="#333" stroke-width="1.35"/>
<line x1="79.6" y1="433.9" x2="79.6" y2="439.1" stroke="#333" stroke-width="1.35"/>
<line x1="67.6" y1="433.9" x2="67.6" y2="439.1" stroke="#333" stroke-width="1.35"/>
<text x="61.2" y="432.3" font-size="8.6" text-anchor="middle" fill="#1a1a1a" font-weight="normal" font-style="normal" >ns</text>
<circle cx="73.80" cy="430.8" r="1.3" fill="#222"/>
<line x1="90.8" y1="436.5" x2="115.5" y2="436.5" stroke="#333" stroke-width="1.35"/>
<line x1="90.8" y1="433.9" x2="90.8" y2="439.1" stroke="#333" stroke-width="1.35"/>
<line x1="115.5" y1="433.9" x2="115.5" y2="439.1" stroke="#333" stroke-width="1.35"/>
<line x1="103.5" y1="433.9" x2="103.5" y2="439.1" stroke="#333" stroke-width="1.35"/>
<text x="97.3" y="432.3" font-size="8.6" text-anchor="middle" fill="#1a1a1a" font-weight="normal" font-style="normal" >ns</text>
<circle cx="107.90" cy="431.5" r="1.3" fill="#222"/>
<circle cx="111.30" cy="431.5" r="1.3" fill="#222"/>
<line x1="53.3" y1="546.7" x2="83" y2="546.7" stroke="#333" stroke-width="1.35"/>
<line x1="53.3" y1="544.1" x2="53.3" y2="549.3000000000001" stroke="#333" stroke-width="1.35"/>
<line x1="83" y1="544.1" x2="83" y2="549.3000000000001" stroke="#333" stroke-width="1.35"/>
<line x1="89.7" y1="546.7" x2="119.4" y2="546.7" stroke="#333" stroke-width="1.35"/>
<line x1="89.7" y1="544.1" x2="89.7" y2="549.3000000000001" stroke="#333" stroke-width="1.35"/>
<line x1="119.4" y1="544.1" x2="119.4" y2="549.3000000000001" stroke="#333" stroke-width="1.35"/>
<text x="68.3" y="558.6" font-size="9.5" text-anchor="middle" fill="#1a1a1a" font-weight="normal" font-style="normal" >5903</text>
<text x="104.6" y="558.6" font-size="9.5" text-anchor="middle" fill="#1a1a1a" font-weight="normal" font-style="normal" >5849</text>
<text x="17.7" y="558.4" font-size="8.6" text-anchor="start" fill="#1a1a1a">Eμ-<tspan font-style="italic">myc</tspan></text>
<text x="162" y="411.5" font-size="12.4" font-weight="bold" fill="#000">H</text>
<line x1="209.9" y1="417" x2="209.9" y2="539.3" stroke="#262626" stroke-width="1.1"/>
<line x1="209.4" y1="538.8" x2="285" y2="538.8" stroke="#262626" stroke-width="1.3"/>
<line x1="206.4" y1="538.8" x2="209.9" y2="538.8" stroke="#262626" stroke-width="1"/>
<text x="203.9" y="541.6999999999999" font-size="9.2" text-anchor="end" fill="#1a1a1a" font-weight="normal" font-style="normal" letter-spacing="0.2">0.0</text>
<line x1="206.4" y1="509.05" x2="209.9" y2="509.05" stroke="#262626" stroke-width="1"/>
<text x="203.9" y="511.95" font-size="9.2" text-anchor="end" fill="#1a1a1a" font-weight="normal" font-style="normal" letter-spacing="0.2">0.5</text>
<line x1="206.4" y1="479.3" x2="209.9" y2="479.3" stroke="#262626" stroke-width="1"/>
<text x="203.9" y="482.2" font-size="9.2" text-anchor="end" fill="#1a1a1a" font-weight="normal" font-style="normal" letter-spacing="0.2">1.0</text>
<line x1="206.4" y1="449.55" x2="209.9" y2="449.55" stroke="#262626" stroke-width="1"/>
<text x="203.9" y="452.45" font-size="9.2" text-anchor="end" fill="#1a1a1a" font-weight="normal" font-style="normal" letter-spacing="0.2">1.5</text>
<line x1="206.4" y1="419.8" x2="209.9" y2="419.8" stroke="#262626" stroke-width="1"/>
<text x="203.9" y="422.7" font-size="9.2" text-anchor="end" fill="#1a1a1a" font-weight="normal" font-style="normal" letter-spacing="0.2">2.0</text>
<text transform="translate(183.6,479.3) rotate(-90)" x="0" y="0" font-size="10" text-anchor="middle" fill="#1a1a1a" stroke="#1a1a1a" stroke-width="0.3" textLength="46.5" lengthAdjust="spacingAndGlyphs">LN weight (g)</text>
<rect x="212.8" y="535.23" width="7.4" height="2.97" fill="#d2122e"/>
<rect x="224.9" y="523.92" width="7.4" height="14.28" fill="#1b5292"/>
<rect x="237.4" y="514.4" width="7.4" height="23.8" fill="#d2122e"/>
<rect x="249.9" y="528.68" width="7.4" height="9.52" fill="#1b5292"/>
<rect x="262.2" y="528.09" width="7.4" height="10.11" fill="#1b5292"/>
<rect x="274.4" y="526.9" width="7.4" height="11.3" fill="#d2122e"/>
<line x1="216.5" y1="533" x2="216.5" y2="535.2" stroke="#111" stroke-width="1"/>
<line x1="214.75" y1="533" x2="218.25" y2="533" stroke="#111" stroke-width="1"/>
<line x1="228.6" y1="519" x2="228.6" y2="523.9" stroke="#111" stroke-width="1"/>
<line x1="226.85" y1="519" x2="230.35" y2="519" stroke="#111" stroke-width="1"/>
<line x1="241.1" y1="511" x2="241.1" y2="514.4" stroke="#111" stroke-width="1"/>
<line x1="239.35" y1="511" x2="242.85" y2="511" stroke="#111" stroke-width="1"/>
<line x1="253.6" y1="524" x2="253.6" y2="528.7" stroke="#111" stroke-width="1"/>
<line x1="251.85" y1="524" x2="255.35" y2="524" stroke="#111" stroke-width="1"/>
<line x1="265.9" y1="525" x2="265.9" y2="528" stroke="#111" stroke-width="1"/>
<line x1="264.15" y1="525" x2="267.65" y2="525" stroke="#111" stroke-width="1"/>
<line x1="278.1" y1="516.6" x2="278.1" y2="527" stroke="#111" stroke-width="1"/>
<line x1="276.35" y1="516.6" x2="279.85" y2="516.6" stroke="#111" stroke-width="1"/>
<path d="M214.05 527.96L218.55 527.96L216.30 524.04Z" fill="#000"/>
<path d="M214.05 531.96L218.55 531.96L216.30 528.04Z" fill="#000"/>
<path d="M212.55 534.46L217.05 534.46L214.80 530.54Z" fill="#000"/>
<path d="M215.55 534.46L220.05 534.46L217.80 530.54Z" fill="#000"/>
<path d="M214.05 535.96L218.55 535.96L216.30 532.04Z" fill="#000"/>
<path d="M212.25 538.46L216.75 538.46L214.50 534.54Z" fill="#000"/>
<path d="M215.75 538.46L220.25 538.46L218.00 534.54Z" fill="#000"/>
<circle cx="226.5" cy="514.5" r="2.0" fill="#000"/>
<circle cx="229" cy="512.5" r="2.0" fill="#000"/>
<circle cx="232" cy="511.3" r="2.0" fill="#000"/>
<circle cx="228.5" cy="520" r="2.0" fill="#000"/>
<circle cx="230.8" cy="524" r="2.0" fill="#000"/>
<circle cx="227" cy="528" r="2.0" fill="#000"/>
<circle cx="230.5" cy="528" r="2.0" fill="#000"/>
<circle cx="228.6" cy="532" r="2.0" fill="#000"/>
<circle cx="226.5" cy="536" r="2.0" fill="#000"/>
<circle cx="230.5" cy="536" r="2.0" fill="#000"/>
<circle cx="239" cy="506.3" r="1.9" fill="none" stroke="#000" stroke-width="1.05"/>
<circle cx="243" cy="506.3" r="1.9" fill="none" stroke="#000" stroke-width="1.05"/>
<circle cx="241" cy="510" r="1.9" fill="none" stroke="#000" stroke-width="1.05"/>
<circle cx="238.5" cy="514" r="1.9" fill="none" stroke="#000" stroke-width="1.05"/>
<circle cx="243.5" cy="514" r="1.9" fill="none" stroke="#000" stroke-width="1.05"/>
<circle cx="241.1" cy="519" r="1.9" fill="none" stroke="#000" stroke-width="1.05"/>
<circle cx="241.1" cy="526" r="1.9" fill="none" stroke="#000" stroke-width="1.05"/>
<circle cx="241.1" cy="532" r="1.9" fill="none" stroke="#000" stroke-width="1.05"/>
<path d="M251.25 504.26L255.75 504.26L253.50 500.34Z" fill="#000"/>
<path d="M251.25 523.36L255.75 523.36L253.50 519.44Z" fill="#000"/>
<path d="M249.65 523.46L254.15 523.46L251.90 519.54Z" fill="#000"/>
<path d="M251.45 523.46L255.95 523.46L253.70 519.54Z" fill="#000"/>
<path d="M253.25 523.46L257.75 523.46L255.50 519.54Z" fill="#000"/>
<path d="M250.55 525.36L255.05 525.36L252.80 521.44Z" fill="#000"/>
<path d="M252.35 525.36L256.85 525.36L254.60 521.44Z" fill="#000"/>
<path d="M249.65 527.26L254.15 527.26L251.90 523.34Z" fill="#000"/>
<path d="M251.45 527.26L255.95 527.26L253.70 523.34Z" fill="#000"/>
<path d="M253.25 527.26L257.75 527.26L255.50 523.34Z" fill="#000"/>
<path d="M250.55 529.16L255.05 529.16L252.80 525.24Z" fill="#000"/>
<path d="M252.35 529.16L256.85 529.16L254.60 525.24Z" fill="#000"/>
<path d="M249.65 531.06L254.15 531.06L251.90 527.14Z" fill="#000"/>
<path d="M251.45 531.06L255.95 531.06L253.70 527.14Z" fill="#000"/>
<path d="M253.25 531.06L257.75 531.06L255.50 527.14Z" fill="#000"/>
<path d="M250.55 532.96L255.05 532.96L252.80 529.04Z" fill="#000"/>
<path d="M252.35 532.96L256.85 532.96L254.60 529.04Z" fill="#000"/>
<path d="M249.65 534.86L254.15 534.86L251.90 530.94Z" fill="#000"/>
<path d="M251.45 534.86L255.95 534.86L253.70 530.94Z" fill="#000"/>
<path d="M253.25 534.86L257.75 534.86L255.50 530.94Z" fill="#000"/>
<path d="M250.55 536.76L255.05 536.76L252.80 532.84Z" fill="#000"/>
<path d="M252.35 536.76L256.85 536.76L254.60 532.84Z" fill="#000"/>
<path d="M249.65 538.66L254.15 538.66L251.90 534.74Z" fill="#000"/>
<path d="M251.45 538.66L255.95 538.66L253.70 534.74Z" fill="#000"/>
<path d="M253.25 538.66L257.75 538.66L255.50 534.74Z" fill="#000"/>
<circle cx="264.5" cy="522.5" r="2.0" fill="#000"/>
<circle cx="266.1" cy="522.5" r="2.0" fill="#000"/>
<circle cx="267.7" cy="522.5" r="2.0" fill="#000"/>
<circle cx="265.3" cy="524.5" r="2.0" fill="#000"/>
<circle cx="266.9" cy="524.5" r="2.0" fill="#000"/>
<circle cx="264.5" cy="526.5" r="2.0" fill="#000"/>
<circle cx="266.1" cy="526.5" r="2.0" fill="#000"/>
<circle cx="267.7" cy="526.5" r="2.0" fill="#000"/>
<circle cx="265.3" cy="528.5" r="2.0" fill="#000"/>
<circle cx="266.9" cy="528.5" r="2.0" fill="#000"/>
<circle cx="264.5" cy="530.5" r="2.0" fill="#000"/>
<circle cx="266.1" cy="530.5" r="2.0" fill="#000"/>
<circle cx="267.7" cy="530.5" r="2.0" fill="#000"/>
<circle cx="265.3" cy="532.5" r="2.0" fill="#000"/>
<circle cx="266.9" cy="532.5" r="2.0" fill="#000"/>
<circle cx="264.5" cy="534.5" r="2.0" fill="#000"/>
<circle cx="266.1" cy="534.5" r="2.0" fill="#000"/>
<circle cx="267.7" cy="534.5" r="2.0" fill="#000"/>
<circle cx="265.3" cy="536.5" r="2.0" fill="#000"/>
<circle cx="266.9" cy="536.5" r="2.0" fill="#000"/>
<circle cx="278.5" cy="442.9" r="1.9" fill="none" stroke="#000" stroke-width="1.05"/>
<circle cx="276.7" cy="518.5" r="1.9" fill="none" stroke="#000" stroke-width="1.05"/>
<circle cx="278.5" cy="518.5" r="1.9" fill="none" stroke="#000" stroke-width="1.05"/>
<circle cx="280.3" cy="518.5" r="1.9" fill="none" stroke="#000" stroke-width="1.05"/>
<circle cx="277.6" cy="520.3" r="1.9" fill="none" stroke="#000" stroke-width="1.05"/>
<circle cx="279.4" cy="520.3" r="1.9" fill="none" stroke="#000" stroke-width="1.05"/>
<circle cx="276.7" cy="522.1" r="1.9" fill="none" stroke="#000" stroke-width="1.05"/>
<circle cx="278.5" cy="522.1" r="1.9" fill="none" stroke="#000" stroke-width="1.05"/>
<circle cx="280.3" cy="522.1" r="1.9" fill="none" stroke="#000" stroke-width="1.05"/>
<circle cx="277.6" cy="523.9" r="1.9" fill="none" stroke="#000" stroke-width="1.05"/>
<circle cx="279.4" cy="523.9" r="1.9" fill="none" stroke="#000" stroke-width="1.05"/>
<circle cx="276.7" cy="525.7" r="1.9" fill="none" stroke="#000" stroke-width="1.05"/>
<circle cx="278.5" cy="525.7" r="1.9" fill="none" stroke="#000" stroke-width="1.05"/>
<circle cx="280.3" cy="525.7" r="1.9" fill="none" stroke="#000" stroke-width="1.05"/>
<circle cx="277.6" cy="527.5" r="1.9" fill="none" stroke="#000" stroke-width="1.05"/>
<circle cx="279.4" cy="527.5" r="1.9" fill="none" stroke="#000" stroke-width="1.05"/>
<circle cx="276.7" cy="529.3" r="1.9" fill="none" stroke="#000" stroke-width="1.05"/>
<circle cx="278.5" cy="529.3" r="1.9" fill="none" stroke="#000" stroke-width="1.05"/>
<circle cx="280.3" cy="529.3" r="1.9" fill="none" stroke="#000" stroke-width="1.05"/>
<circle cx="276.6" cy="524" r="2.0" fill="#000"/>
<circle cx="280.4" cy="524" r="2.0" fill="#000"/>
<line x1="255.7" y1="431.9" x2="280.5" y2="431.9" stroke="#333" stroke-width="1.35"/>
<line x1="255.7" y1="429.29999999999995" x2="255.7" y2="434.5" stroke="#333" stroke-width="1.35"/>
<line x1="280.5" y1="429.29999999999995" x2="280.5" y2="434.5" stroke="#333" stroke-width="1.35"/>
<line x1="267.9" y1="429.29999999999995" x2="267.9" y2="434.5" stroke="#333" stroke-width="1.35"/>
<text x="261.4" y="428.5" font-size="8.6" text-anchor="middle" fill="#1a1a1a" font-weight="normal" font-style="normal" >ns</text>
<circle cx="274.10" cy="427.6" r="1.3" fill="#222"/>
<line x1="215.6" y1="491.1" x2="239.8" y2="491.1" stroke="#333" stroke-width="1.35"/>
<line x1="215.6" y1="488.5" x2="215.6" y2="493.70000000000005" stroke="#333" stroke-width="1.35"/>
<line x1="239.8" y1="488.5" x2="239.8" y2="493.70000000000005" stroke="#333" stroke-width="1.35"/>
<line x1="227.9" y1="488.5" x2="227.9" y2="493.70000000000005" stroke="#333" stroke-width="1.35"/>
<circle cx="221.70" cy="487.6" r="1.3" fill="#222"/>
<circle cx="234.40" cy="487.6" r="1.3" fill="#222"/>
<line x1="214.5" y1="546.4" x2="244.2" y2="546.4" stroke="#333" stroke-width="1.35"/>
<line x1="214.5" y1="543.8" x2="214.5" y2="549.0" stroke="#333" stroke-width="1.35"/>
<line x1="244.2" y1="543.8" x2="244.2" y2="549.0" stroke="#333" stroke-width="1.35"/>
<line x1="251.6" y1="546.4" x2="281" y2="546.4" stroke="#333" stroke-width="1.35"/>
<line x1="251.6" y1="543.8" x2="251.6" y2="549.0" stroke="#333" stroke-width="1.35"/>
<line x1="281" y1="543.8" x2="281" y2="549.0" stroke="#333" stroke-width="1.35"/>
<text x="229.5" y="558.3" font-size="9.5" text-anchor="middle" fill="#1a1a1a" font-weight="normal" font-style="normal" >5903</text>
<text x="266.3" y="558.3" font-size="9.5" text-anchor="middle" fill="#1a1a1a" font-weight="normal" font-style="normal" >5849</text>
<text x="178" y="558.3" font-size="8.6" text-anchor="start" fill="#1a1a1a">Eμ-<tspan font-style="italic">myc</tspan></text>
<text x="310" y="411" font-size="12.4" font-weight="bold" fill="#000">I</text>
<line x1="355" y1="416.2" x2="355" y2="539.7" stroke="#262626" stroke-width="1.1"/>
<line x1="354.5" y1="539.2" x2="430" y2="539.2" stroke="#262626" stroke-width="1.3"/>
<line x1="351.5" y1="539.2" x2="355" y2="539.2" stroke="#262626" stroke-width="1"/>
<text x="349.0" y="542.1" font-size="9.2" text-anchor="end" fill="#1a1a1a" font-weight="normal" font-style="normal" letter-spacing="0.2">0</text>
<line x1="351.5" y1="509.2" x2="355" y2="509.2" stroke="#262626" stroke-width="1"/>
<text x="349.0" y="512.1" font-size="9.2" text-anchor="end" fill="#1a1a1a" font-weight="normal" font-style="normal" letter-spacing="0.2">5</text>
<line x1="351.5" y1="479.2" x2="355" y2="479.2" stroke="#262626" stroke-width="1"/>
<text x="349.0" y="482.09999999999997" font-size="9.2" text-anchor="end" fill="#1a1a1a" font-weight="normal" font-style="normal" letter-spacing="0.2">10</text>
<line x1="351.5" y1="449.2" x2="355" y2="449.2" stroke="#262626" stroke-width="1"/>
<text x="349.0" y="452.09999999999997" font-size="9.2" text-anchor="end" fill="#1a1a1a" font-weight="normal" font-style="normal" letter-spacing="0.2">15</text>
<line x1="351.5" y1="419.2" x2="355" y2="419.2" stroke="#262626" stroke-width="1"/>
<text x="349.0" y="422.09999999999997" font-size="9.2" text-anchor="end" fill="#1a1a1a" font-weight="normal" font-style="normal" letter-spacing="0.2">20</text>
<text transform="translate(331.2,476.7) rotate(-90)" x="0" y="0" font-size="10" text-anchor="middle" fill="#1a1a1a" stroke="#1a1a1a" stroke-width="0.3" textLength="63" lengthAdjust="spacingAndGlyphs">Liver infiltration (%)</text>
<rect x="359.5" y="533.8" width="6.6" height="4.8" fill="#d2122e"/>
<rect x="371.3" y="523.0" width="6.6" height="15.6" fill="#1b5292"/>
<rect x="383.2" y="485.2" width="6.6" height="53.4" fill="#d2122e"/>
<rect x="395.3" y="533.2" width="6.6" height="5.4" fill="#1b5292"/>
<rect x="407.1" y="530.5" width="6.6" height="8.1" fill="#1b5292"/>
<rect x="418.7" y="521.2" width="6.6" height="17.4" fill="#d2122e"/>
<line x1="362.8" y1="530.5" x2="362.8" y2="533.8" stroke="#111" stroke-width="1"/>
<line x1="361.05" y1="530.5" x2="364.55" y2="530.5" stroke="#111" stroke-width="1"/>
<line x1="374.6" y1="517.2" x2="374.6" y2="522.9" stroke="#111" stroke-width="1"/>
<line x1="372.85" y1="517.2" x2="376.35" y2="517.2" stroke="#111" stroke-width="1"/>
<line x1="386.5" y1="480" x2="386.5" y2="485.2" stroke="#111" stroke-width="1"/>
<line x1="384.75" y1="480" x2="388.25" y2="480" stroke="#111" stroke-width="1"/>
<line x1="398.6" y1="532" x2="398.6" y2="533.2" stroke="#111" stroke-width="1"/>
<line x1="396.85" y1="532" x2="400.35" y2="532" stroke="#111" stroke-width="1"/>
<line x1="410.4" y1="530" x2="410.4" y2="530.5" stroke="#111" stroke-width="1"/>
<line x1="408.65" y1="530" x2="412.15" y2="530" stroke="#111" stroke-width="1"/>
<line x1="422" y1="518" x2="422" y2="521.2" stroke="#111" stroke-width="1"/>
<line x1="420.25" y1="518" x2="423.75" y2="518" stroke="#111" stroke-width="1"/>
<path d="M360.55 513.06L365.05 513.06L362.80 509.14Z" fill="#000"/>
<path d="M360.55 522.66L365.05 522.66L362.80 518.74Z" fill="#000"/>
<path d="M358.75 537.96L363.25 537.96L361.00 534.04Z" fill="#000"/>
<path d="M362.25 537.96L366.75 537.96L364.50 534.04Z" fill="#000"/>
<path d="M360.55 539.96L365.05 539.96L362.80 536.04Z" fill="#000"/>
<circle cx="374.5" cy="493.5" r="2.0" fill="#000"/>
<circle cx="374.5" cy="503.9" r="2.0" fill="#000"/>
<circle cx="373.5" cy="509.4" r="2.0" fill="#000"/>
<circle cx="375.5" cy="509.4" r="2.0" fill="#000"/>
<circle cx="374.5" cy="520" r="2.0" fill="#000"/>
<circle cx="374.5" cy="527" r="2.0" fill="#000"/>
<circle cx="373" cy="535" r="2.0" fill="#000"/>
<circle cx="376" cy="535" r="2.0" fill="#000"/>
<circle cx="374.5" cy="538" r="2.0" fill="#000"/>
<circle cx="386.2" cy="435.7" r="1.9" fill="none" stroke="#000" stroke-width="1.05"/>
<circle cx="386.2" cy="455.4" r="1.9" fill="none" stroke="#000" stroke-width="1.05"/>
<circle cx="386.2" cy="461.2" r="1.9" fill="none" stroke="#000" stroke-width="1.05"/>
<circle cx="386.2" cy="473.1" r="1.9" fill="none" stroke="#000" stroke-width="1.05"/>
<circle cx="386.2" cy="477.7" r="1.9" fill="none" stroke="#000" stroke-width="1.05"/>
<circle cx="386.5" cy="494" r="1.9" fill="none" stroke="#000" stroke-width="1.05"/>
<circle cx="386.5" cy="506" r="1.9" fill="none" stroke="#000" stroke-width="1.05"/>
<circle cx="386.5" cy="524" r="1.9" fill="none" stroke="#000" stroke-width="1.05"/>
<circle cx="386.5" cy="532" r="1.9" fill="none" stroke="#000" stroke-width="1.05"/>
<path d="M394.45 533.46L398.95 533.46L396.70 529.54Z" fill="#000"/>
<path d="M398.05 533.46L402.55 533.46L400.30 529.54Z" fill="#000"/>
<path d="M396.25 535.66L400.75 535.66L398.50 531.74Z" fill="#000"/>
<path d="M394.45 537.86L398.95 537.86L396.70 533.94Z" fill="#000"/>
<path d="M398.05 537.86L402.55 537.86L400.30 533.94Z" fill="#000"/>
<circle cx="410.3" cy="524.5" r="2.0" fill="#000"/>
<circle cx="408.5" cy="529.5" r="2.0" fill="#000"/>
<circle cx="412.1" cy="529.5" r="2.0" fill="#000"/>
<circle cx="410.3" cy="531.7" r="2.0" fill="#000"/>
<circle cx="408.5" cy="533.9" r="2.0" fill="#000"/>
<circle cx="412.1" cy="533.9" r="2.0" fill="#000"/>
<circle cx="410.3" cy="536.1" r="2.0" fill="#000"/>
<circle cx="421.8" cy="504.2" r="1.9" fill="none" stroke="#000" stroke-width="1.05"/>
<circle cx="421.8" cy="511.7" r="1.9" fill="none" stroke="#000" stroke-width="1.05"/>
<circle cx="419.5" cy="514.5" r="1.9" fill="none" stroke="#000" stroke-width="1.05"/>
<circle cx="424" cy="516.5" r="1.9" fill="none" stroke="#000" stroke-width="1.05"/>
<circle cx="420.2" cy="518.5" r="1.9" fill="none" stroke="#000" stroke-width="1.05"/>
<circle cx="423.8" cy="518.5" r="1.9" fill="none" stroke="#000" stroke-width="1.05"/>
<circle cx="422" cy="520.6" r="1.9" fill="none" stroke="#000" stroke-width="1.05"/>
<circle cx="420.2" cy="522.7" r="1.9" fill="none" stroke="#000" stroke-width="1.05"/>
<circle cx="423.8" cy="522.7" r="1.9" fill="none" stroke="#000" stroke-width="1.05"/>
<circle cx="422" cy="524.8" r="1.9" fill="none" stroke="#000" stroke-width="1.05"/>
<circle cx="420.2" cy="526.9" r="1.9" fill="none" stroke="#000" stroke-width="1.05"/>
<circle cx="423.8" cy="526.9" r="1.9" fill="none" stroke="#000" stroke-width="1.05"/>
<circle cx="422" cy="529.0" r="1.9" fill="none" stroke="#000" stroke-width="1.05"/>
<line x1="361.5" y1="424.6" x2="386.2" y2="424.6" stroke="#333" stroke-width="1.35"/>
<line x1="361.5" y1="422.0" x2="361.5" y2="427.20000000000005" stroke="#333" stroke-width="1.35"/>
<line x1="386.2" y1="422.0" x2="386.2" y2="427.20000000000005" stroke="#333" stroke-width="1.35"/>
<line x1="373.8" y1="422.0" x2="373.8" y2="427.20000000000005" stroke="#333" stroke-width="1.35"/>
<text x="367.4" y="421.1" font-size="8.6" text-anchor="middle" fill="#1a1a1a" font-weight="normal" font-style="normal" >ns</text>
<circle cx="378.30" cy="420.2" r="1.3" fill="#222"/>
<circle cx="381.70" cy="420.2" r="1.3" fill="#222"/>
<line x1="397.6" y1="496.4" x2="421.8" y2="496.4" stroke="#333" stroke-width="1.35"/>
<line x1="397.6" y1="493.79999999999995" x2="397.6" y2="499.0" stroke="#333" stroke-width="1.35"/>
<line x1="421.8" y1="493.79999999999995" x2="421.8" y2="499.0" stroke="#333" stroke-width="1.35"/>
<line x1="409.7" y1="493.79999999999995" x2="409.7" y2="499.0" stroke="#333" stroke-width="1.35"/>
<circle cx="404.50" cy="493.6" r="1.3" fill="#222"/>
<circle cx="413.70" cy="493.6" r="1.3" fill="#222"/>
<circle cx="417.10" cy="493.6" r="1.3" fill="#222"/>
<line x1="359.5" y1="547.1" x2="389.4" y2="547.1" stroke="#333" stroke-width="1.35"/>
<line x1="359.5" y1="544.5" x2="359.5" y2="549.7" stroke="#333" stroke-width="1.35"/>
<line x1="389.4" y1="544.5" x2="389.4" y2="549.7" stroke="#333" stroke-width="1.35"/>
<line x1="396.4" y1="547.1" x2="426.1" y2="547.1" stroke="#333" stroke-width="1.35"/>
<line x1="396.4" y1="544.5" x2="396.4" y2="549.7" stroke="#333" stroke-width="1.35"/>
<line x1="426.1" y1="544.5" x2="426.1" y2="549.7" stroke="#333" stroke-width="1.35"/>
<text x="374" y="557.9" font-size="9.5" text-anchor="middle" fill="#1a1a1a" font-weight="normal" font-style="normal" >5903</text>
<text x="411.2" y="557.9" font-size="9.5" text-anchor="middle" fill="#1a1a1a" font-weight="normal" font-style="normal" >5849</text>
<text x="323" y="558" font-size="8.6" text-anchor="start" fill="#1a1a1a">Eμ-<tspan font-style="italic">myc</tspan></text>
<g opacity="0.5"><rect x="61.5" y="137.9" width="7.2" height="5.0" fill="#1b5292"/><rect x="74.6" y="137.9" width="7.2" height="5.0" fill="#d2122e"/><rect x="88.0" y="75.5" width="7.2" height="67.4" fill="#1b5292"/><rect x="100.7" y="114.7" width="7.2" height="28.2" fill="#d2122e"/><rect x="215" y="133.0" width="7.4" height="9.9" fill="#1b5292"/><rect x="228.1" y="136.0" width="7.4" height="6.9" fill="#d2122e"/><rect x="241.3" y="80.5" width="7.4" height="62.4" fill="#1b5292"/><rect x="254.2" y="112.0" width="7.4" height="30.9" fill="#d2122e"/><rect x="358.5" y="142.87" width="5" height="0.03" fill="#1b5292"/><rect x="367.5" y="143.03" width="5" height="-0.13" fill="#d2122e"/><rect x="376.5" y="142.56" width="5" height="0.34" fill="#1b5292"/><rect x="385.5" y="142.87" width="5" height="0.03" fill="#d2122e"/><rect x="400.5" y="142.56" width="5" height="0.34" fill="#1b5292"/><rect x="409.5" y="143.19" width="5" height="-0.29" fill="#d2122e"/><rect x="418.5" y="142.25" width="5" height="0.65" fill="#1b5292"/><rect x="427.5" y="142.56" width="5" height="0.34" fill="#d2122e"/><rect x="442.5" y="137.24" width="5" height="5.66" fill="#1b5292"/><rect x="451.5" y="142.56" width="5" height="0.34" fill="#d2122e"/><rect x="460.5" y="63.69" width="5" height="79.21" fill="#1b5292"/><rect x="469.5" y="89.66" width="5" height="53.24" fill="#d2122e"/><rect x="484.5" y="128.48" width="5" height="14.42" fill="#1b5292"/><rect x="493.5" y="127.85" width="5" height="15.05" fill="#d2122e"/><rect x="502.5" y="131.92" width="5" height="10.98" fill="#1b5292"/><rect x="511.5" y="135.36" width="5" height="7.54" fill="#d2122e"/><rect x="53.2" y="350.7" width="7.2" height="4.2" fill="#1b5292"/><rect x="66.7" y="350.7" width="7.2" height="4.2" fill="#d2122e"/><rect x="80.1" y="297.5" width="7.2" height="57.4" fill="#1b5292"/><rect x="93.1" y="284.7" width="7.2" height="70.2" fill="#d2122e"/><rect x="214.8" y="348.87" width="6.9" height="6.03" fill="#d2122e"/><rect x="226.4" y="340.44" width="6.9" height="14.46" fill="#1b5292"/><rect x="238.1" y="296.46" width="6.9" height="58.44" fill="#d2122e"/><rect x="250.1" y="342.55" width="6.9" height="12.35" fill="#1b5292"/><rect x="262.0" y="342.85" width="6.9" height="12.05" fill="#1b5292"/><rect x="273.8" y="322.37" width="6.9" height="32.53" fill="#d2122e"/><rect x="357.8" y="349.1" width="7" height="5.8" fill="#d2122e"/><rect x="369.9" y="342.3" width="7" height="12.6" fill="#1b5292"/><rect x="382.5" y="307.5" width="7" height="47.4" fill="#d2122e"/><rect x="395.0" y="345.5" width="7" height="9.4" fill="#1b5292"/><rect x="407.6" y="344.3" width="7" height="10.6" fill="#1b5292"/><rect x="420.0" y="328.3" width="7" height="26.6" fill="#d2122e"/><rect x="53.3" y="512.8" width="6.7" height="25.8" fill="#d2122e"/><rect x="64.8" y="502.0" width="6.7" height="36.6" fill="#1b5292"/><rect x="76.6" y="475.6" width="6.7" height="63.0" fill="#d2122e"/><rect x="88.7" y="492.4" width="6.7" height="46.2" fill="#1b5292"/><rect x="100.5" y="492.4" width="6.7" height="46.2" fill="#1b5292"/><rect x="112.3" y="481.0" width="6.7" height="57.6" fill="#d2122e"/><rect x="212.8" y="535.23" width="7.4" height="2.97" fill="#d2122e"/><rect x="224.9" y="523.92" width="7.4" height="14.28" fill="#1b5292"/><rect x="237.4" y="514.4" width="7.4" height="23.8" fill="#d2122e"/><rect x="249.9" y="528.68" width="7.4" height="9.52" fill="#1b5292"/><rect x="262.2" y="528.09" width="7.4" height="10.11" fill="#1b5292"/><rect x="274.4" y="526.9" width="7.4" height="11.3" fill="#d2122e"/><rect x="359.5" y="533.8" width="6.6" height="4.8" fill="#d2122e"/><rect x="371.3" y="523.0" width="6.6" height="15.6" fill="#1b5292"/><rect x="383.2" y="485.2" width="6.6" height="53.4" fill="#d2122e"/><rect x="395.3" y="533.2" width="6.6" height="5.4" fill="#1b5292"/><rect x="407.1" y="530.5" width="6.6" height="8.1" fill="#1b5292"/><rect x="418.7" y="521.2" width="6.6" height="17.4" fill="#d2122e"/></g>
</svg></body></html>
